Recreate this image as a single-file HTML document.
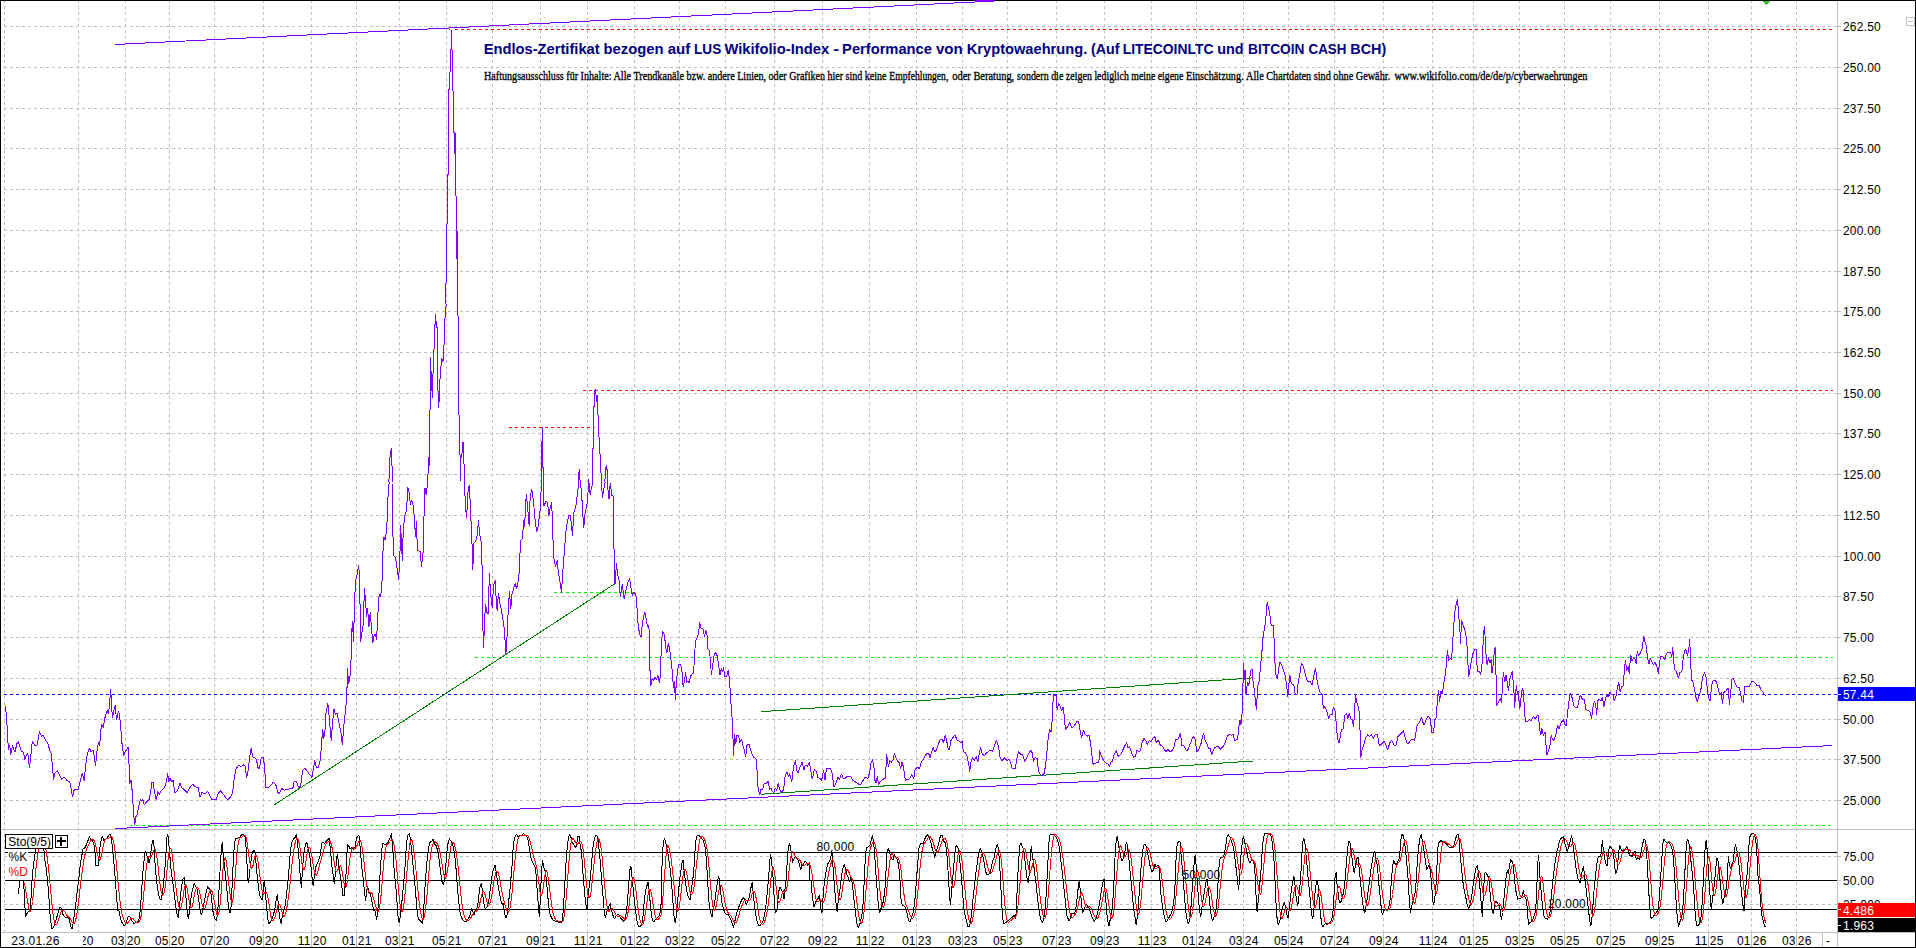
<!DOCTYPE html><html><head><meta charset="utf-8"><title>chart</title><style>html,body{margin:0;padding:0;background:#fff}svg{display:block;font-family:"Liberation Sans",sans-serif;font-size:12px}</style></head><body>
<svg width="1916" height="948" viewBox="0 0 1916 948">
<rect x="0" y="0" width="1916" height="948" fill="#fff"/>
<g stroke="#c0c0c0" stroke-width="1" shape-rendering="crispEdges" stroke-dasharray="3 3" fill="none">
<path d="M4.5 0V829"/>
<path d="M4.5 828V932"/>
<path d="M78.5 0V829"/>
<path d="M78.5 828V932"/>
<path d="M125.5 0V829"/>
<path d="M125.5 828V932"/>
<path d="M169.5 0V829"/>
<path d="M169.5 828V932"/>
<path d="M214.5 0V829"/>
<path d="M214.5 828V932"/>
<path d="M263.5 0V829"/>
<path d="M263.5 828V932"/>
<path d="M311.5 0V829"/>
<path d="M311.5 828V932"/>
<path d="M356.5 0V829"/>
<path d="M356.5 828V932"/>
<path d="M399.5 0V829"/>
<path d="M399.5 828V932"/>
<path d="M446.5 0V829"/>
<path d="M446.5 828V932"/>
<path d="M492.5 0V829"/>
<path d="M492.5 828V932"/>
<path d="M540.5 0V829"/>
<path d="M540.5 828V932"/>
<path d="M587.5 0V829"/>
<path d="M587.5 828V932"/>
<path d="M634.5 0V829"/>
<path d="M634.5 828V932"/>
<path d="M679.5 0V829"/>
<path d="M679.5 828V932"/>
<path d="M725.5 0V829"/>
<path d="M725.5 828V932"/>
<path d="M774.5 0V829"/>
<path d="M774.5 828V932"/>
<path d="M822.5 0V829"/>
<path d="M822.5 828V932"/>
<path d="M869.5 0V829"/>
<path d="M869.5 828V932"/>
<path d="M916.5 0V829"/>
<path d="M916.5 828V932"/>
<path d="M962.5 0V829"/>
<path d="M962.5 828V932"/>
<path d="M1007.5 0V829"/>
<path d="M1007.5 828V932"/>
<path d="M1056.5 0V829"/>
<path d="M1056.5 828V932"/>
<path d="M1104.5 0V829"/>
<path d="M1104.5 828V932"/>
<path d="M1151.5 0V829"/>
<path d="M1151.5 828V932"/>
<path d="M1196.5 0V829"/>
<path d="M1196.5 828V932"/>
<path d="M1243.5 0V829"/>
<path d="M1243.5 828V932"/>
<path d="M1288.5 0V829"/>
<path d="M1288.5 828V932"/>
<path d="M1334.5 0V829"/>
<path d="M1334.5 828V932"/>
<path d="M1383.5 0V829"/>
<path d="M1383.5 828V932"/>
<path d="M1432.5 0V829"/>
<path d="M1432.5 828V932"/>
<path d="M1473.5 0V829"/>
<path d="M1473.5 828V932"/>
<path d="M1519.5 0V829"/>
<path d="M1519.5 828V932"/>
<path d="M1564.5 0V829"/>
<path d="M1564.5 828V932"/>
<path d="M1610.5 0V829"/>
<path d="M1610.5 828V932"/>
<path d="M1659.5 0V829"/>
<path d="M1659.5 828V932"/>
<path d="M1708.5 0V829"/>
<path d="M1708.5 828V932"/>
<path d="M1751.5 0V829"/>
<path d="M1751.5 828V932"/>
<path d="M1796.5 0V829"/>
<path d="M1796.5 828V932"/>
<path d="M4 26.5H1837"/>
<path d="M4 67.5H1837"/>
<path d="M4 108.5H1837"/>
<path d="M4 148.5H1837"/>
<path d="M4 189.5H1837"/>
<path d="M4 230.5H1837"/>
<path d="M4 271.5H1837"/>
<path d="M4 311.5H1837"/>
<path d="M4 352.5H1837"/>
<path d="M4 393.5H1837"/>
<path d="M4 433.5H1837"/>
<path d="M4 474.5H1837"/>
<path d="M4 515.5H1837"/>
<path d="M4 556.5H1837"/>
<path d="M4 596.5H1837"/>
<path d="M4 637.5H1837"/>
<path d="M4 678.5H1837"/>
<path d="M4 719.5H1837"/>
<path d="M4 759.5H1837"/>
<path d="M4 800.5H1837"/>
<path d="M4 856.5H1837"/>
<path d="M4 904.5H1837"/>
</g>
<g stroke="#c0c0c0" stroke-width="1" shape-rendering="crispEdges" fill="none">
<path d="M1837.5 1V947"/>
<path d="M1 829.5H1915"/>
<path d="M1 932.5H1915"/>
<path d="M1834 26.5H1841"/>
<path d="M1834 67.5H1841"/>
<path d="M1834 108.5H1841"/>
<path d="M1834 148.5H1841"/>
<path d="M1834 189.5H1841"/>
<path d="M1834 230.5H1841"/>
<path d="M1834 271.5H1841"/>
<path d="M1834 311.5H1841"/>
<path d="M1834 352.5H1841"/>
<path d="M1834 393.5H1841"/>
<path d="M1834 433.5H1841"/>
<path d="M1834 474.5H1841"/>
<path d="M1834 515.5H1841"/>
<path d="M1834 556.5H1841"/>
<path d="M1834 596.5H1841"/>
<path d="M1834 637.5H1841"/>
<path d="M1834 678.5H1841"/>
<path d="M1834 719.5H1841"/>
<path d="M1834 759.5H1841"/>
<path d="M1834 800.5H1841"/>
<path d="M1834 856.5H1841"/>
<path d="M1834 904.5H1841"/>
<path d="M1834 880.5H1841"/>
<path d="M78.5 930V947"/>
<path d="M125.5 930V947"/>
<path d="M169.5 930V947"/>
<path d="M214.5 930V947"/>
<path d="M263.5 930V947"/>
<path d="M311.5 930V947"/>
<path d="M356.5 930V947"/>
<path d="M399.5 930V947"/>
<path d="M446.5 930V947"/>
<path d="M492.5 930V947"/>
<path d="M540.5 930V947"/>
<path d="M587.5 930V947"/>
<path d="M634.5 930V947"/>
<path d="M679.5 930V947"/>
<path d="M725.5 930V947"/>
<path d="M774.5 930V947"/>
<path d="M822.5 930V947"/>
<path d="M869.5 930V947"/>
<path d="M916.5 930V947"/>
<path d="M962.5 930V947"/>
<path d="M1007.5 930V947"/>
<path d="M1056.5 930V947"/>
<path d="M1104.5 930V947"/>
<path d="M1151.5 930V947"/>
<path d="M1196.5 930V947"/>
<path d="M1243.5 930V947"/>
<path d="M1288.5 930V947"/>
<path d="M1334.5 930V947"/>
<path d="M1383.5 930V947"/>
<path d="M1432.5 930V947"/>
<path d="M1473.5 930V947"/>
<path d="M1519.5 930V947"/>
<path d="M1564.5 930V947"/>
<path d="M1610.5 930V947"/>
<path d="M1659.5 930V947"/>
<path d="M1708.5 930V947"/>
<path d="M1751.5 930V947"/>
<path d="M1796.5 930V947"/>
<path d="M1822.5 933V947"/>
<rect x="1906.5" y="17.5" width="8" height="8" fill="#fff"/><path d="M1908 21.5H1913"/>
</g>
<rect x="449" y="29" width="1" height="1" fill="#ff0000"/>
<path d="M455 29.5H1833" stroke="#ff0000" stroke-width="1" stroke-dasharray="3 3" shape-rendering="crispEdges" fill="none"/>
<path d="M583 390.5H1833" stroke="#ff0000" stroke-width="1" stroke-dasharray="3 3" shape-rendering="crispEdges" fill="none"/>
<path d="M509 427.5H595" stroke="#ff0000" stroke-width="1" stroke-dasharray="3 3" shape-rendering="crispEdges" fill="none"/>
<path d="M475 657.5H1833" stroke="#00ff00" stroke-width="1" stroke-dasharray="3 3" shape-rendering="crispEdges" fill="none"/>
<path d="M554 592.5H636" stroke="#00ff00" stroke-width="1" stroke-dasharray="3 3" shape-rendering="crispEdges" fill="none"/>
<path d="M130 825.5H1833" stroke="#00ff00" stroke-width="1" stroke-dasharray="3 3" shape-rendering="crispEdges" fill="none"/>
<path d="M4 694.5H1838" stroke="#0000ff" stroke-width="1" stroke-dasharray="3 3" shape-rendering="crispEdges" fill="none"/>
<path d="M115 44.5L994 1.05" stroke="#8000ff" stroke-width="1" shape-rendering="crispEdges" fill="none"/>
<path d="M115 828.6L1832 745.55" stroke="#8000ff" stroke-width="1" shape-rendering="crispEdges" fill="none"/>
<path d="M274 805L614.7 583.8" stroke="#008000" stroke-width="1" shape-rendering="crispEdges" fill="none"/>
<path d="M761 711.7L1253 677.9" stroke="#008000" stroke-width="1" shape-rendering="crispEdges" fill="none"/>
<path d="M761 794.3L1253 761" stroke="#008000" stroke-width="1" shape-rendering="crispEdges" fill="none"/>
<path d="M5.3 706.0 6.6 716.4 7.5 735.2 8.5 750.2 9.8 745.5 10.7 754.9 12.4 745.5 13.5 748.3 15.0 752.1 16.9 743.6 18.4 741.7 19.7 746.4 21.6 751.1 23.5 752.1 24.8 759.6 26.3 754.9 27.8 753.6 29.5 768.0 31.0 753.9 32.3 740.8 34.8 745.5 37.0 745.5 39.5 731.4 41.3 736.1 43.2 735.2 46.0 740.8 47.9 743.6 49.8 750.2 51.1 753.0 52.6 767.1 53.5 780.3 54.5 773.7 57.3 770.5 59.2 774.6 61.6 779.3 64.3 776.9 66.7 780.3 69.9 782.1 71.4 789.6 72.5 797.2 74.2 789.6 76.1 789.3 78.0 789.6 79.9 782.1 82.3 772.7 84.2 781.2 85.5 767.1 87.4 753.0 89.6 748.3 91.1 752.1 93.0 750.2 94.5 757.7 95.6 766.2 96.8 752.1 98.6 741.7 99.6 745.5 101.5 723.9 103.3 727.6 105.2 716.4 107.1 710.7 108.6 713.5 109.9 700.4 110.5 689.1 111.2 697.6 112.4 718.2 113.9 710.7 115.2 705.1 116.5 720.1 118.4 710.7 119.7 716.4 121.2 733.3 122.1 744.6 123.6 755.8 125.5 751.1 128.1 747.4 129.1 765.2 129.6 784.0 131.0 780.3 131.9 787.8 132.8 800.9 133.8 815.9 134.7 825.3 135.7 816.9 137.2 815.0 139.0 804.7 140.5 799.0 141.9 800.9 142.8 799.0 144.3 804.7 146.6 801.9 149.4 799.0 150.7 791.5 151.8 782.1 153.1 782.1 154.4 791.5 156.3 800.0 157.8 791.5 159.3 794.3 161.2 790.6 163.5 788.7 165.3 785.9 166.8 780.3 167.6 772.7 168.7 782.1 170.0 778.4 171.9 782.1 173.2 780.3 174.7 793.0 176.6 791.5 178.5 787.8 180.0 783.1 181.9 787.8 184.1 789.6 187.0 792.5 189.8 787.8 192.6 784.0 195.4 786.8 198.2 787.4 200.1 797.2 202.0 792.5 204.8 793.8 207.6 791.5 209.5 795.3 211.9 800.0 216.1 799.4 218.0 794.3 220.2 790.6 222.7 793.4 225.5 797.2 227.7 800.0 230.2 797.2 232.6 793.4 233.9 780.3 235.8 769.0 238.6 765.6 241.4 766.7 243.9 764.8 245.4 766.2 246.5 778.4 248.0 770.9 249.9 755.8 251.2 748.3 252.7 756.8 254.6 757.7 256.5 759.6 257.8 767.1 259.3 769.0 261.2 757.7 263.4 757.7 264.6 767.1 265.9 787.8 267.7 787.8 270.6 785.5 273.4 782.1 276.2 785.9 278.5 794.3 280.9 790.6 281.8 788.7 284.7 790.2 287.5 789.3 290.3 788.7 293.1 787.8 294.1 781.8 296.5 781.2 298.7 787.8 300.6 785.9 302.5 770.9 304.8 768.0 307.2 770.9 309.6 774.6 311.9 777.4 313.4 769.0 314.7 760.5 316.2 767.1 318.5 767.1 320.4 759.6 321.7 740.8 322.8 729.5 323.5 738.9 324.7 735.2 326.0 712.6 327.9 703.6 329.2 716.4 330.3 731.4 331.3 740.8 332.6 722.0 333.9 708.9 335.4 714.5 337.3 713.5 339.1 723.9 341.0 733.3 342.3 744.6 343.8 725.8 345.3 712.6 346.7 697.6 347.6 668.5 348.5 684.4 349.9 678.8 350.8 660.0 351.2 659.9 351.6 634.2 352.5 621.0 353.5 641.7 354.4 609.8 355.4 581.6 357.2 574.1 358.6 564.7 359.7 579.7 360.1 609.8 360.6 641.7 361.9 632.3 363.3 624.8 364.4 588.2 365.7 602.3 366.6 617.3 367.6 607.9 368.9 626.7 370.4 611.6 371.3 626.7 372.8 642.6 374.2 635.1 375.5 634.2 376.6 639.8 377.9 613.5 379.2 594.7 380.7 596.6 382.0 581.6 383.0 551.5 383.9 537.4 385.4 540.2 386.9 525.2 387.9 498.0 389.2 482.0 388.2 481.9 389.2 477.8 389.6 460.9 390.5 452.4 391.4 448.3 392.0 465.6 392.6 467.5 392.6 481.9 392.0 482.0 392.6 521.5 393.5 555.3 395.4 557.2 397.3 570.3 398.6 579.7 399.9 557.2 400.5 525.2 401.4 538.4 402.3 560.9 403.3 529.0 404.8 515.8 406.7 510.2 407.6 486.7 408.9 491.4 410.4 504.5 411.7 499.8 413.2 505.5 414.2 515.8 415.5 536.5 416.4 521.5 417.4 550.6 420.2 551.5 421.5 566.6 423.0 553.4 423.9 519.6 424.9 487.6 426.2 495.2 427.7 482.0 427.3 481.9 428.1 473.1 428.6 457.1 429.2 465.6 429.6 411.1 430.5 409.2 430.9 394.2 430.5 357.5 431.5 382.9 432.4 397.9 432.8 379.2 433.7 356.6 434.7 332.2 435.4 314.3 436.2 328.4 436.7 320.9 437.5 335.9 437.5 376.3 438.6 408.3 439.4 396.1 439.9 381.0 440.9 366.9 441.8 358.5 442.7 362.2 443.7 359.4 444.6 319.0 445.6 317.2 446.1 304.0 445.8 303.8 445.8 284.7 446.7 279.1 447.3 174.8 448.6 174.5 448.8 126.0 448.5 89.0 449.7 89.0 449.7 71.9 450.8 71.9 450.8 49.7 451.4 49.1 451.4 30.1 451.9 49.7 452.5 50.4 452.7 90.9 453.5 91.5 453.5 132.0 454.4 132.7 454.8 139.9 453.3 126.0 453.5 132.6 454.4 133.1 454.4 154.2 455.4 132.6 455.7 195.5 456.7 196.4 456.7 259.3 457.6 231.2 457.6 303.8 457.4 304.0 457.8 315.3 458.5 317.2 458.7 414.9 459.6 415.8 459.6 454.3 460.6 456.2 460.6 480.6 461.0 458.1 462.1 452.4 462.5 443.0 463.4 442.1 463.8 463.7 464.7 464.6 464.9 481.9 464.3 482.0 465.7 509.2 466.6 517.7 468.1 490.5 469.4 484.8 470.5 510.2 471.9 540.2 472.8 570.3 473.7 543.1 475.6 541.2 477.5 534.6 478.4 520.5 479.7 534.6 481.3 542.1 482.2 570.3 482.6 621.0 483.7 648.3 484.4 622.9 485.6 604.1 486.9 612.6 488.4 613.5 489.3 573.1 490.6 592.9 492.2 607.9 493.5 585.3 495.3 579.7 496.3 602.3 497.2 610.7 498.4 592.9 499.7 602.3 501.4 609.8 502.9 619.2 504.7 632.3 505.7 655.4 506.6 645.5 507.9 617.3 509.4 591.0 510.8 608.8 511.9 594.7 513.2 590.0 515.1 583.5 516.4 589.1 518.8 578.8 519.8 557.2 520.7 540.2 522.6 538.4 523.5 519.6 524.5 527.1 526.3 494.2 527.7 508.3 529.2 526.2 530.1 498.9 531.6 488.6 533.5 500.8 534.8 517.7 536.7 531.8 538.2 526.2 540.1 510.2 541.4 483.9 541.9 463.2 541.4 481.9 541.4 465.6 541.9 446.8 542.3 427.1 542.7 467.5 543.6 467.5 543.6 481.9 543.8 506.4 546.1 500.8 547.6 502.7 548.9 515.8 550.2 508.3 551.7 501.7 552.7 530.9 553.6 557.2 555.5 566.6 557.3 560.0 558.3 572.2 560.2 583.5 561.5 592.5 562.6 574.1 563.9 557.2 564.9 544.0 566.4 527.1 568.6 515.8 570.5 515.8 572.4 535.5 573.9 512.1 575.8 506.4 577.1 496.1 579.0 482.0 578.4 481.9 578.6 474.0 579.5 469.0 579.9 479.7 580.8 481.9 580.5 482.0 581.8 497.0 583.7 528.0 585.2 512.1 587.0 504.5 588.9 482.0 588.4 481.9 588.5 478.7 588.9 481.9 588.9 482.0 590.2 495.2 591.5 487.6 593.0 482.0 592.5 481.9 592.7 448.7 593.6 447.7 593.6 407.3 594.6 405.5 594.6 391.4 595.5 388.9 596.1 396.1 596.8 401.7 597.4 395.5 597.7 414.9 598.7 415.8 599.1 443.0 599.8 444.0 600.2 462.8 600.9 463.7 601.1 479.7 601.9 481.9 601.5 482.0 602.4 498.0 603.9 488.6 605.3 482.0 604.9 481.9 605.3 472.2 606.2 465.2 606.8 470.3 607.7 469.3 607.9 481.9 607.1 482.0 609.0 498.9 610.3 482.9 611.8 495.2 613.3 496.1 613.7 542.1 614.7 562.8 615.0 584.4 616.5 562.8 617.5 575.0 618.8 577.8 620.3 596.6 622.2 584.4 624.1 598.5 625.9 591.0 627.8 582.5 629.7 578.2 631.2 590.0 632.5 595.7 634.0 591.9 635.9 594.7 637.2 609.8 638.1 624.8 639.6 634.2 641.0 637.0 642.5 622.9 644.7 611.6 646.6 621.0 647.5 626.7 648.5 624.8 649.8 636.1 649.8 659.9 649.8 665.8 650.7 686.4 652.2 678.0 653.5 680.8 655.0 677.0 656.5 679.9 657.8 675.2 659.4 682.7 660.3 675.2 661.0 656.4 661.6 641.3 662.5 631.6 664.4 634.8 665.9 648.9 666.9 652.6 668.2 643.6 669.7 648.9 671.0 660.1 672.3 671.4 673.4 688.3 674.4 680.8 675.3 699.6 676.3 682.7 677.6 671.4 678.5 663.9 680.4 664.8 681.7 667.6 683.2 687.4 684.5 680.8 685.7 672.3 686.6 682.7 687.9 680.8 689.2 682.7 690.7 676.1 692.2 673.3 693.5 673.3 694.5 658.2 695.4 641.3 696.9 638.5 698.6 632.9 699.7 622.5 701.1 628.2 702.9 628.2 704.4 636.6 705.8 630.1 707.3 636.6 708.0 648.9 709.5 650.7 710.5 662.0 711.4 675.2 712.7 664.8 714.2 654.5 715.7 652.6 717.4 656.4 718.5 663.9 719.9 675.2 721.2 668.6 722.3 672.3 723.6 667.6 724.9 677.0 726.8 676.1 728.3 670.5 729.2 678.0 730.2 690.2 731.1 705.2 732.1 718.4 733.0 739.0 733.6 755.9 734.5 734.3 735.8 743.7 736.8 735.3 738.6 735.3 739.6 742.8 741.5 739.0 743.0 745.6 744.3 750.3 745.6 756.9 747.1 744.7 749.4 744.3 750.5 750.3 751.8 753.1 753.3 756.9 755.0 757.8 756.5 759.7 757.4 777.9 757.8 785.9 758.8 791.5 759.7 795.3 761.0 789.6 762.5 789.6 764.1 784.0 766.3 783.1 768.2 781.2 769.7 789.6 771.0 787.8 772.3 791.5 773.8 792.5 775.3 787.8 776.6 790.6 778.1 783.1 779.8 789.6 781.7 792.5 783.6 789.6 785.1 776.5 787.0 771.8 788.5 776.5 789.8 773.7 791.7 782.1 793.5 767.1 795.4 760.5 796.9 770.9 798.2 772.7 800.1 767.1 802.0 762.4 803.9 769.9 805.4 765.2 807.6 766.2 809.5 762.4 811.0 771.8 812.3 779.3 814.2 769.9 816.1 770.9 818.0 777.4 819.9 778.4 821.7 780.3 823.6 769.9 824.9 780.3 826.4 769.0 828.3 768.0 830.6 768.6 832.4 774.6 833.9 786.8 835.8 784.0 837.7 777.4 839.6 779.3 841.5 773.7 843.3 778.4 845.2 778.4 847.1 776.5 850.9 776.9 852.7 780.3 855.6 782.1 858.4 784.0 860.3 784.9 863.1 780.3 864.9 777.4 867.8 778.4 869.6 772.7 871.0 763.3 872.5 759.6 873.8 765.2 874.9 780.3 876.2 783.1 877.2 776.5 878.7 784.9 880.5 781.2 882.8 779.3 885.1 778.4 886.2 765.2 886.6 753.9 888.4 767.1 889.7 760.5 891.3 762.4 893.1 759.6 894.4 753.0 895.9 757.7 897.8 761.5 899.3 762.4 900.6 769.0 902.0 762.4 903.5 767.1 905.3 780.3 908.2 779.3 910.0 778.4 911.9 774.6 913.8 778.4 915.1 769.0 917.6 767.1 919.4 769.0 921.3 762.4 923.2 759.6 925.1 755.8 927.0 753.0 928.8 753.9 930.1 757.7 931.6 752.1 933.2 747.4 934.5 752.1 936.3 750.2 938.2 744.6 940.1 739.9 942.0 738.9 943.5 742.7 945.2 735.2 946.7 740.8 948.2 749.2 949.5 750.2 950.8 740.8 953.3 737.0 955.1 735.2 957.0 739.9 958.9 740.8 960.8 742.7 962.3 740.8 963.2 751.1 965.5 753.0 967.3 756.8 968.9 765.2 969.6 772.4 970.7 762.4 972.6 757.7 974.5 760.5 976.4 755.8 977.7 762.4 979.6 752.1 980.5 747.4 982.4 753.9 984.3 755.8 986.5 753.0 989.0 751.1 990.8 750.2 992.7 751.1 994.6 744.6 996.5 740.4 998.4 746.4 1000.2 757.7 1002.1 760.5 1004.6 757.7 1006.8 760.5 1009.1 759.6 1010.6 762.4 1012.1 768.6 1013.9 768.0 1015.3 769.0 1016.6 759.6 1018.5 751.5 1020.3 753.9 1022.8 754.9 1024.7 761.5 1026.5 757.7 1028.4 753.9 1030.9 750.2 1032.2 753.0 1033.5 761.5 1035.0 757.7 1037.2 758.3 1038.4 770.9 1040.3 774.6 1042.1 775.6 1044.0 773.7 1045.3 767.1 1046.6 755.8 1048.1 738.9 1049.6 729.5 1051.0 732.3 1051.9 723.9 1052.8 707.0 1053.4 693.8 1054.7 695.7 1056.0 694.8 1057.2 709.8 1058.5 703.2 1060.4 707.0 1061.7 710.7 1063.2 707.0 1064.1 714.5 1065.4 729.5 1067.9 726.7 1069.7 722.0 1071.6 727.6 1073.5 726.7 1075.4 723.9 1077.3 721.1 1078.6 722.0 1080.1 730.5 1081.6 738.0 1083.5 730.5 1085.3 734.2 1087.2 736.1 1089.1 735.2 1090.4 742.7 1091.4 750.2 1092.9 764.3 1095.1 763.3 1097.0 762.4 1098.9 762.4 1099.4 750.6 1101.3 755.3 1103.2 760.0 1106.0 762.9 1107.8 763.8 1109.4 767.0 1111.0 761.9 1112.5 761.0 1114.1 754.4 1116.3 750.6 1118.2 756.3 1121.0 754.4 1122.9 749.7 1124.8 745.9 1126.6 742.6 1128.1 747.8 1129.8 746.9 1131.7 753.5 1133.6 757.2 1135.5 756.3 1137.0 749.7 1138.5 751.6 1140.4 750.6 1142.2 742.2 1144.1 738.4 1146.0 741.3 1147.3 745.0 1149.2 740.3 1151.1 742.2 1152.9 738.4 1154.8 736.6 1156.1 742.2 1158.6 740.3 1160.5 745.9 1162.3 745.9 1164.2 749.7 1166.1 751.6 1168.0 749.7 1170.4 752.0 1172.7 749.7 1174.2 746.9 1175.5 739.4 1177.9 739.4 1179.8 734.7 1180.6 732.8 1181.5 745.0 1183.9 745.9 1186.2 750.6 1188.1 749.7 1190.0 744.1 1192.4 738.4 1193.7 736.6 1195.2 739.4 1196.7 751.6 1198.6 749.7 1200.9 744.1 1202.7 735.6 1203.7 733.7 1205.0 740.3 1206.9 744.1 1208.7 748.8 1210.3 747.8 1211.6 755.3 1213.1 750.6 1214.9 747.8 1217.4 745.9 1220.6 749.3 1223.4 745.9 1225.3 742.2 1227.2 736.6 1229.0 734.3 1231.3 735.1 1233.2 734.7 1234.7 740.7 1237.5 739.4 1238.8 728.1 1239.9 719.6 1240.9 725.3 1242.2 712.1 1242.8 691.5 1243.5 663.3 1244.1 680.2 1245.0 669.9 1245.9 694.3 1247.5 682.1 1248.8 685.8 1249.7 678.3 1250.6 670.8 1252.0 668.9 1252.9 680.2 1254.0 687.7 1255.3 699.0 1256.5 710.3 1257.6 685.8 1259.1 682.1 1260.6 665.2 1261.9 652.0 1263.2 635.1 1264.7 627.6 1266.2 614.4 1267.2 602.2 1268.5 607.8 1269.8 614.4 1271.3 625.7 1273.2 625.7 1274.1 638.9 1275.1 665.2 1276.0 674.6 1277.5 679.2 1278.5 669.9 1279.8 662.3 1281.6 665.2 1283.5 670.8 1285.4 676.4 1286.9 687.7 1287.8 696.7 1288.8 685.8 1289.7 674.6 1291.0 682.1 1292.5 684.9 1293.9 684.9 1295.2 694.3 1297.1 694.3 1298.2 682.1 1300.1 672.7 1301.4 663.3 1303.3 666.1 1304.8 672.7 1306.5 678.3 1308.0 682.1 1309.8 681.1 1312.1 684.9 1313.6 676.4 1315.5 668.0 1316.4 674.6 1317.3 682.1 1318.9 688.6 1320.2 692.4 1322.0 694.3 1323.4 708.4 1324.9 706.5 1326.7 710.3 1328.6 718.7 1330.5 714.0 1332.0 714.9 1333.3 707.4 1334.8 709.3 1335.8 717.8 1336.5 729.0 1337.6 738.4 1339.0 743.1 1340.3 736.6 1341.4 730.0 1343.3 729.0 1344.6 715.9 1346.5 713.1 1347.8 718.7 1349.3 713.1 1350.8 718.7 1352.1 719.6 1353.6 727.2 1354.6 710.3 1355.5 694.3 1356.8 702.7 1358.3 706.5 1359.6 714.0 1360.2 736.6 1360.6 758.2 1362.1 749.7 1363.9 744.1 1365.8 737.5 1367.7 734.7 1369.6 736.6 1371.5 734.7 1373.3 738.4 1375.2 734.7 1377.5 734.7 1379.4 745.9 1381.6 743.7 1384.1 741.3 1385.9 745.0 1387.8 749.7 1389.7 743.1 1391.6 739.9 1394.0 745.0 1396.3 745.0 1397.8 736.6 1400.0 734.7 1401.9 732.8 1403.4 730.0 1405.3 738.4 1407.5 744.1 1409.4 742.2 1411.3 739.4 1414.7 740.3 1416.0 731.9 1417.3 724.3 1419.7 722.5 1421.3 716.8 1422.6 721.5 1424.1 725.3 1425.9 720.6 1428.2 715.9 1430.1 718.7 1432.0 732.8 1433.5 732.8 1434.8 719.6 1436.3 717.8 1437.2 702.7 1438.5 689.6 1439.5 701.8 1441.0 691.5 1442.3 694.3 1444.2 680.2 1445.7 672.7 1446.6 659.5 1447.6 650.1 1448.5 660.5 1450.3 658.6 1451.6 659.5 1452.5 646.4 1453.5 627.6 1454.8 612.5 1456.3 603.2 1457.6 599.4 1458.6 614.4 1459.7 625.7 1460.6 643.5 1461.4 620.1 1462.9 624.8 1464.8 629.5 1466.3 637.0 1467.6 653.9 1468.5 677.4 1469.8 670.8 1471.3 661.4 1472.8 653.9 1474.5 650.1 1476.0 649.2 1477.0 665.2 1477.9 671.7 1479.2 670.8 1480.4 674.6 1481.7 668.9 1482.6 653.9 1483.5 635.1 1484.5 625.7 1485.4 642.6 1486.4 661.4 1487.3 665.2 1488.6 656.7 1489.7 663.3 1491.1 659.5 1492.0 672.7 1493.3 664.2 1494.4 650.1 1495.2 647.3 1495.8 670.8 1496.7 687.7 1496.7 706.1 1498.6 701.8 1500.5 698.0 1501.4 702.7 1502.3 689.6 1503.3 671.7 1504.8 682.1 1506.1 674.6 1507.4 683.9 1508.5 690.5 1509.9 678.3 1511.2 674.6 1512.3 670.8 1513.2 682.1 1514.2 695.2 1514.6 708.4 1515.5 695.2 1516.4 684.9 1517.4 695.2 1518.3 691.5 1519.2 702.7 1519.8 709.3 1521.1 697.1 1522.4 687.7 1523.6 692.4 1524.5 714.0 1525.8 721.5 1527.7 721.5 1529.6 719.6 1531.5 720.6 1533.3 715.9 1535.2 718.7 1537.1 715.9 1538.6 714.9 1539.4 729.0 1540.9 734.7 1541.8 728.1 1543.3 735.6 1545.0 731.9 1546.1 745.9 1546.9 755.3 1548.4 750.6 1549.9 745.9 1551.2 735.6 1552.5 739.4 1554.0 740.3 1555.9 734.7 1557.4 725.3 1559.3 729.0 1560.6 723.4 1562.1 721.5 1563.4 719.6 1564.9 724.3 1566.2 726.2 1567.5 714.0 1568.7 702.7 1570.0 694.3 1570.9 693.3 1572.4 699.0 1573.7 705.6 1575.6 707.4 1577.5 707.4 1579.0 699.9 1580.3 695.2 1582.2 699.0 1584.1 699.0 1585.9 709.3 1587.8 710.3 1589.7 711.2 1591.6 718.7 1593.1 706.5 1594.4 700.9 1595.7 704.6 1596.7 714.9 1597.6 700.9 1599.1 699.0 1601.0 700.9 1602.5 697.1 1603.8 707.4 1605.1 700.9 1606.6 695.2 1608.5 697.1 1610.0 692.4 1611.9 695.2 1613.2 694.3 1614.1 700.9 1616.0 696.2 1617.5 687.7 1618.8 682.1 1620.1 691.5 1621.6 686.8 1623.2 685.8 1624.5 668.9 1625.4 660.5 1626.7 670.8 1628.2 666.1 1629.2 673.6 1630.1 661.4 1630.7 654.8 1632.0 660.5 1633.9 657.6 1635.2 659.5 1636.3 664.2 1637.2 651.1 1638.6 655.8 1640.4 652.9 1642.3 648.2 1643.3 638.9 1643.8 636.0 1645.1 642.6 1646.1 645.4 1647.6 657.6 1648.9 664.2 1650.2 658.6 1651.7 661.4 1653.6 665.2 1655.1 662.3 1657.0 667.0 1658.3 673.6 1659.6 661.4 1660.7 656.7 1662.6 656.7 1664.9 659.5 1666.4 653.9 1668.2 652.0 1670.5 652.0 1671.8 656.7 1672.8 647.3 1673.7 661.4 1674.8 669.9 1676.5 671.7 1678.4 678.3 1679.9 672.7 1681.8 671.7 1683.3 657.6 1684.6 651.1 1685.9 649.2 1687.4 655.8 1688.9 648.2 1689.7 639.2 1690.2 652.0 1690.8 665.2 1691.7 680.2 1693.0 682.1 1694.6 689.6 1695.9 697.1 1697.4 702.2 1698.7 696.2 1700.6 691.5 1702.1 680.2 1703.4 674.6 1704.7 672.7 1706.2 677.4 1707.7 693.3 1709.0 699.0 1710.3 700.9 1711.5 685.8 1712.8 681.1 1714.7 680.2 1716.5 682.1 1718.4 689.6 1719.7 695.2 1721.2 692.4 1722.5 704.2 1723.7 692.4 1725.4 691.5 1726.9 689.6 1728.4 687.7 1729.3 704.6 1730.6 693.3 1731.9 679.2 1733.4 678.3 1735.3 683.9 1737.2 687.7 1739.1 686.8 1740.4 693.3 1741.9 700.9 1743.4 702.7 1744.7 686.8 1746.6 686.2 1749.4 686.2 1751.3 682.1 1752.8 681.1 1755.1 683.0 1757.3 685.8 1759.2 684.9 1760.7 689.6 1762.6 691.5 1764.4 694.3 1765.8 695.6" stroke="#8000ff" stroke-width="1" shape-rendering="crispEdges" fill="none" stroke-linejoin="bevel"/>
<g fill="#22c822" shape-rendering="crispEdges"><rect x="1763" y="1" width="7" height="1"/><rect x="1764" y="2" width="5" height="1"/><rect x="1765" y="3" width="3" height="1"/><rect x="1766" y="4" width="1" height="1"/></g>
<g stroke="#000" stroke-width="1" shape-rendering="crispEdges" fill="none">
<path d="M5 852.5H1837"/>
<path d="M5 880.5H1837"/>
<path d="M5 909.5H1837"/>
</g>
<path d="M18.5 893.8 19.6 880.6 23.5 880.6 24.3 893.8 25.1 909.4 25.8 916.5 27.4 912.5 29.8 911.0 30.9 900.0 32.1 879.7 33.2 867.1 34.8 855.4 36.0 848.4 38.4 837.4 41.0 836.6 43.8 848.4 44.6 857.8 46.2 868.7 47.8 882.8 48.9 896.9 49.8 912.5 50.9 922.0 51.7 928.2 53.2 928.2 54.8 923.5 56.4 918.8 57.9 913.3 59.5 907.1 60.8 907.1 61.9 911.0 63.4 915.7 65.5 917.2 67.3 917.2 68.9 918.0 70.2 923.5 71.2 928.2 72.3 928.2 73.3 922.0 74.4 914.9 75.9 903.2 77.5 889.1 79.1 876.5 80.2 865.6 81.4 857.8 83.0 849.1 84.5 848.4 86.9 843.7 88.5 839.0 89.6 836.6 90.8 839.7 92.4 840.5 94.0 845.2 95.0 851.5 95.8 865.6 97.1 866.0 98.6 864.8 99.4 851.5 100.5 842.9 101.8 837.4 102.6 835.8 103.7 840.5 105.2 839.7 107.2 838.2 108.8 835.0 110.4 834.6 111.5 839.0 112.4 848.4 113.5 857.8 114.6 870.3 115.5 882.8 116.7 898.5 117.8 910.2 119.0 911.0 120.2 917.2 121.8 922.0 123.4 925.1 125.3 925.1 126.5 922.0 127.6 917.2 129.2 916.5 130.7 918.0 132.3 921.2 133.9 923.5 135.9 922.7 137.8 922.0 139.0 918.8 140.1 911.0 140.9 901.6 141.7 890.6 142.5 876.5 143.7 864.0 144.8 853.8 145.6 850.7 146.9 855.4 148.0 857.8 149.1 863.2 150.3 857.8 151.6 845.2 152.7 841.3 153.4 839.7 154.2 848.4 155.0 862.5 156.1 876.5 157.4 886.7 158.5 893.8 159.7 898.5 161.0 900.0 162.1 894.5 163.3 885.9 164.4 873.4 165.7 859.3 166.4 845.2 167.2 835.0 167.8 834.3 168.8 843.7 169.9 856.2 171.0 868.7 172.2 878.1 173.5 887.5 174.6 896.9 175.7 906.3 176.9 913.3 178.2 918.0 179.3 907.9 180.4 896.9 181.6 885.9 182.9 878.9 184.4 877.3 185.2 887.5 186.3 901.6 187.4 913.3 188.4 918.8 189.5 911.0 190.7 900.0 192.3 890.6 194.2 883.6 195.7 886.7 197.3 889.9 198.5 898.5 199.6 906.3 200.7 913.3 201.7 914.9 202.8 909.4 204.3 901.6 205.9 893.8 207.5 886.7 209.0 888.3 210.6 890.6 211.7 900.0 212.9 911.0 214.5 918.0 216.1 920.4 217.3 915.7 218.4 901.6 219.5 881.2 220.5 862.5 221.6 846.8 222.3 842.1 223.1 853.0 224.2 864.0 225.5 875.0 226.6 885.9 227.8 900.0 228.9 909.4 230.2 913.3 231.3 904.7 232.2 884.4 233.3 860.9 234.4 843.7 235.7 838.2 237.2 838.2 239.6 837.4 241.9 834.6 243.5 834.3 245.0 836.6 246.1 848.4 247.1 865.6 247.9 879.7 248.5 882.8 249.3 875.0 250.5 864.0 252.1 853.8 253.7 849.9 254.9 851.5 256.0 862.5 257.1 875.0 258.4 885.9 259.6 895.3 261.2 898.5 262.3 900.0 263.1 890.6 264.3 879.7 265.1 887.5 265.9 898.5 267.0 911.0 268.1 920.4 269.0 923.5 270.6 922.0 272.1 918.8 273.7 914.1 275.3 906.3 276.4 898.5 277.4 894.5 278.4 904.7 279.5 917.2 281.1 923.5 282.1 917.2 283.4 912.5 285.0 906.3 286.5 895.3 288.1 879.7 289.4 864.0 290.4 851.5 291.5 843.7 293.1 839.7 295.1 837.4 296.4 834.6 297.5 842.1 298.8 856.2 299.7 868.7 300.2 875.0 301.3 887.5 302.2 875.0 303.3 859.3 304.4 849.9 305.7 843.7 306.9 842.4 308.0 848.4 309.6 853.8 310.7 864.0 311.9 876.5 313.2 885.9 314.3 876.5 315.8 867.1 317.4 863.2 319.0 859.3 320.5 853.8 321.6 843.7 322.9 842.1 324.4 843.7 326.3 841.3 327.9 839.7 329.1 838.2 329.9 845.2 331.0 856.2 332.0 867.1 333.1 875.0 334.3 883.6 335.4 873.4 336.5 860.9 337.3 853.8 338.2 860.9 339.3 868.7 340.4 876.5 341.7 885.9 342.9 895.3 344.0 896.1 344.8 889.1 345.9 876.5 346.7 859.3 347.5 843.7 348.7 846.0 350.3 849.1 351.9 847.6 353.4 849.9 355.0 846.8 356.1 840.5 357.3 836.6 358.9 835.0 359.7 842.1 360.8 856.2 362.0 868.7 363.3 879.7 364.4 890.6 365.5 900.8 366.4 893.8 367.5 885.9 368.8 892.2 370.2 893.8 371.4 898.5 372.7 906.3 373.8 910.2 375.3 911.0 376.6 920.4 377.7 912.5 378.8 896.9 379.7 879.7 380.8 862.5 381.9 848.4 382.9 843.3 384.7 844.4 386.8 843.7 388.3 842.1 389.9 838.2 391.5 833.5 392.2 842.1 393.0 853.0 393.8 865.6 394.9 878.1 396.2 890.6 397.2 904.7 398.0 915.7 399.1 922.7 400.1 917.2 401.2 907.9 402.4 896.9 403.8 881.2 405.1 865.6 406.2 848.4 407.4 835.8 409.5 833.5 410.6 840.5 411.7 851.5 412.9 864.0 414.2 876.5 415.3 889.1 416.5 903.2 417.6 914.9 418.7 919.6 420.3 920.4 421.5 922.0 422.3 923.5 423.1 917.2 424.2 901.6 425.1 885.9 426.2 870.3 427.3 857.8 428.6 847.6 430.1 842.1 431.7 841.3 433.3 839.3 434.4 843.7 435.9 845.2 437.2 849.1 438.4 854.6 439.5 862.5 440.6 871.8 441.9 881.2 443.4 885.1 444.7 878.1 445.8 865.6 447.1 849.9 448.1 842.9 449.4 838.6 451.0 841.3 452.8 845.2 454.1 851.5 455.2 859.3 456.3 871.8 457.2 884.4 458.3 896.9 459.4 907.9 460.7 915.7 462.2 918.8 464.6 921.6 466.1 921.2 467.7 919.6 469.3 917.2 470.4 914.1 471.6 907.9 472.7 911.0 474.0 914.9 475.2 910.2 476.6 909.4 477.9 903.9 479.0 893.8 480.2 885.9 481.3 882.8 482.3 890.6 483.4 900.0 484.5 907.1 485.7 908.6 487.3 906.3 488.9 900.0 490.1 890.6 491.2 882.8 492.3 873.4 493.6 868.7 495.1 864.8 496.1 871.8 497.1 878.1 498.2 885.9 499.5 893.8 500.9 900.8 502.2 904.7 503.3 903.2 504.2 911.0 505.3 916.5 506.4 918.0 507.6 912.5 508.7 901.6 510.0 889.1 511.1 876.5 512.3 862.5 513.1 848.4 514.2 839.7 515.5 835.8 516.6 834.6 517.8 836.6 520.2 835.8 522.5 835.0 523.6 833.5 524.9 835.5 526.7 836.6 528.0 839.7 529.1 846.8 530.3 855.4 531.9 860.9 533.5 864.0 535.0 867.1 536.1 875.0 537.1 889.1 538.2 903.2 539.0 913.3 539.4 916.5 540.2 901.6 541.0 882.8 541.8 868.7 542.6 860.1 543.6 867.1 545.5 871.8 546.5 881.2 547.6 893.8 548.7 906.3 549.9 913.3 551.5 918.0 553.8 920.7 556.2 921.6 558.5 922.0 560.9 922.7 562.4 920.4 563.2 911.0 564.3 893.8 565.3 875.0 566.4 856.2 567.5 844.4 568.7 836.6 570.0 834.6 571.0 837.4 572.1 842.1 573.7 844.4 575.8 847.6 576.9 842.9 577.8 836.6 579.2 835.8 580.0 843.7 580.9 848.4 582.0 859.3 583.1 875.0 584.4 890.6 585.6 903.2 587.0 910.2 588.3 893.8 589.4 884.4 589.7 882.8 591.0 870.3 592.2 856.2 593.3 843.7 594.9 837.4 596.4 835.0 597.7 837.4 598.8 846.8 600.0 859.3 601.1 873.4 602.2 887.5 603.5 901.6 604.3 912.5 605.4 918.0 606.6 912.5 608.2 907.9 609.4 905.5 610.2 903.2 611.0 909.4 612.4 913.3 613.7 918.0 614.8 918.8 616.3 915.7 618.4 914.1 619.9 917.2 622.0 919.6 623.8 921.2 625.4 918.0 626.7 909.4 627.8 896.9 628.9 881.2 629.8 870.3 630.9 866.4 632.0 876.5 633.2 889.1 634.3 900.0 635.6 911.0 636.8 920.4 638.2 925.9 640.3 927.0 641.9 923.5 643.1 915.7 644.2 901.6 645.5 890.6 646.9 885.9 648.1 882.0 649.2 890.6 650.1 901.6 651.2 912.5 652.3 919.6 653.6 922.0 655.2 919.6 657.0 918.0 659.1 915.7 660.6 911.0 661.4 898.5 661.7 875.0 662.5 853.0 663.5 842.1 664.5 838.6 665.6 841.3 666.9 848.4 668.1 854.6 669.2 862.5 670.5 871.8 671.6 882.8 672.4 895.3 673.5 909.4 674.4 920.4 675.2 922.7 676.3 915.7 677.4 903.2 678.6 890.6 679.9 878.1 681.0 870.3 682.1 862.5 683.0 860.1 684.1 870.3 685.2 879.7 686.5 889.1 687.6 895.3 688.8 897.7 690.1 900.0 691.2 890.6 692.4 882.8 693.5 873.4 694.6 859.3 695.5 842.1 696.6 836.6 698.2 835.0 700.2 836.6 702.1 839.0 703.7 841.3 705.0 846.8 706.0 856.2 706.8 867.1 707.6 879.7 708.4 893.8 709.2 904.7 710.3 910.2 711.2 914.9 712.0 917.2 712.8 911.0 713.9 906.3 715.0 900.0 716.2 890.6 717.5 881.2 718.6 875.8 719.4 879.7 720.5 890.6 721.7 901.6 723.3 908.6 724.8 912.5 726.4 914.9 728.0 914.1 729.5 917.2 731.1 920.4 732.7 925.1 733.4 927.9 734.7 922.0 736.1 915.7 737.8 909.4 739.4 905.5 741.0 901.6 742.5 898.5 744.1 897.7 745.2 901.6 746.3 904.7 747.5 901.6 748.8 898.5 749.9 893.8 751.0 887.5 752.2 882.0 753.0 890.6 754.1 901.6 755.4 912.5 756.9 920.4 758.5 925.1 759.8 925.9 761.6 923.5 763.2 920.4 764.8 914.1 766.0 904.7 767.1 893.8 768.4 879.7 769.5 865.6 770.5 853.8 771.3 859.3 772.3 868.7 773.4 881.2 774.1 896.9 774.9 909.4 775.7 912.5 776.8 911.0 777.6 903.2 778.5 893.8 779.6 886.7 780.9 889.1 782.0 890.6 783.2 893.8 784.0 899.2 784.8 890.6 785.9 882.8 786.7 870.3 787.5 857.8 788.2 848.4 789.5 842.9 790.6 848.4 791.7 856.2 792.6 862.5 793.7 859.3 794.8 857.8 796.1 857.0 797.3 859.3 798.4 860.9 799.7 865.6 800.8 870.3 802.0 864.0 803.1 865.6 804.7 860.9 806.2 862.5 807.8 865.6 809.4 862.5 809.9 879.7 811.0 881.2 811.7 890.6 812.8 900.0 814.1 907.1 815.3 903.2 816.7 900.0 818.0 898.5 819.2 895.3 820.3 903.2 821.1 911.0 821.9 913.3 822.7 903.2 823.5 890.6 824.7 879.7 826.1 871.8 827.4 864.8 829.0 861.7 830.5 859.3 831.8 850.7 832.6 859.3 833.3 871.8 834.4 885.9 835.5 898.5 836.5 907.9 837.2 911.8 838.0 903.2 839.1 895.3 840.2 887.5 841.5 876.5 842.7 868.7 844.3 864.0 845.4 868.7 847.0 875.0 848.5 878.1 849.6 882.0 850.6 876.5 851.7 879.7 852.8 887.5 853.7 896.9 854.8 906.3 855.9 915.7 856.8 923.5 858.4 927.9 860.0 923.5 861.5 917.2 862.6 909.4 863.4 898.5 864.2 881.2 865.0 864.0 865.8 851.5 866.9 847.6 868.4 846.8 870.0 845.2 871.2 840.5 872.5 835.5 873.6 842.1 874.7 854.6 875.6 868.7 876.7 884.4 877.8 898.5 878.8 909.4 879.7 913.3 880.2 911.0 881.7 906.3 883.3 901.6 884.4 893.8 885.7 881.2 886.4 859.3 887.2 850.7 888.3 848.4 889.6 852.3 891.1 857.8 893.2 860.1 894.3 854.6 895.8 857.0 897.4 859.3 898.6 865.6 899.8 876.5 900.5 890.6 901.3 903.2 902.9 905.5 904.8 906.3 906.3 909.4 907.6 915.7 908.8 921.2 910.4 921.6 911.5 917.2 913.1 912.5 914.6 903.2 915.7 890.6 916.7 876.5 917.8 862.5 918.9 848.4 920.1 844.4 921.7 842.9 923.2 843.7 924.8 839.0 926.4 835.8 927.9 834.6 929.5 838.2 931.1 843.7 932.6 849.9 933.9 853.0 934.7 857.8 935.8 853.0 937.3 848.4 938.6 843.7 939.7 838.2 941.2 835.0 942.5 835.8 943.6 841.3 945.2 842.9 946.4 848.4 947.2 857.8 948.0 870.3 948.8 882.8 949.5 895.3 950.3 904.7 951.1 896.9 952.2 884.4 953.3 871.8 954.5 857.8 955.6 846.8 956.9 845.5 958.0 848.4 959.2 856.2 960.5 867.1 961.6 879.7 962.7 893.8 963.6 906.3 964.7 914.1 966.3 920.4 967.9 926.6 969.4 927.0 970.7 920.4 971.8 911.0 972.9 900.0 974.1 889.1 975.2 878.1 976.5 868.7 977.7 859.3 979.1 851.5 980.4 848.4 982.0 852.3 983.5 859.3 985.1 868.7 986.6 875.0 988.7 874.2 990.2 873.4 991.4 867.1 992.4 861.7 994.0 857.8 995.3 851.5 996.5 846.0 997.6 843.7 998.7 851.5 999.6 864.0 1000.4 878.1 1001.2 893.8 1002.0 907.9 1002.8 918.8 1003.9 924.3 1005.4 922.7 1007.8 921.2 1010.1 918.8 1012.5 916.9 1014.4 914.9 1015.6 918.8 1016.4 909.4 1016.9 895.3 1017.5 881.2 1018.3 867.1 1019.1 854.6 1020.0 845.2 1020.8 842.9 1021.9 846.0 1023.4 849.1 1024.5 856.2 1025.5 865.6 1026.6 875.0 1027.7 882.0 1028.5 882.8 1029.4 870.3 1030.2 857.8 1031.3 846.5 1032.4 854.6 1033.6 864.0 1034.7 873.4 1036.0 882.8 1037.1 893.8 1038.3 904.7 1039.4 912.5 1040.7 919.6 1042.2 922.4 1043.5 920.4 1044.6 914.1 1045.7 901.6 1046.6 887.5 1047.4 871.8 1048.2 856.2 1049.0 842.1 1050.1 834.3 1051.6 834.3 1053.2 834.6 1055.1 835.8 1056.6 838.2 1057.9 841.3 1059.1 846.8 1060.2 854.6 1061.3 864.0 1062.6 875.0 1063.7 885.9 1064.9 896.9 1066.0 907.9 1067.0 915.7 1068.1 918.8 1069.3 921.2 1070.4 917.2 1072.0 913.3 1073.5 914.1 1075.1 911.8 1076.4 904.7 1077.5 895.3 1078.2 887.5 1079.3 880.5 1080.3 890.6 1081.4 901.6 1082.5 913.3 1083.4 911.0 1084.5 907.9 1086.1 903.9 1087.3 905.5 1088.9 907.9 1090.5 912.5 1092.0 917.2 1093.6 920.4 1094.7 921.2 1096.2 917.2 1097.8 912.5 1098.9 906.3 1100.2 898.5 1101.4 890.6 1102.8 882.8 1104.1 878.9 1104.9 890.6 1106.0 903.2 1106.9 914.1 1108.0 922.0 1109.1 926.3 1110.3 918.8 1111.6 912.5 1112.7 903.2 1113.5 890.6 1114.3 875.0 1115.0 857.8 1115.8 845.2 1116.6 838.2 1117.4 836.6 1118.5 845.2 1119.7 851.5 1121.0 857.8 1122.1 860.9 1123.7 857.0 1124.9 851.5 1126.0 843.7 1126.8 842.1 1127.9 849.9 1129.1 860.9 1130.2 873.4 1131.5 885.9 1132.7 898.5 1133.8 909.4 1135.1 917.2 1136.2 925.1 1137.4 915.7 1138.5 903.2 1139.6 887.5 1140.6 873.4 1141.7 859.3 1142.8 849.9 1144.0 844.9 1145.6 844.4 1146.8 848.4 1147.9 854.6 1149.2 860.9 1150.3 867.1 1151.8 871.8 1153.4 870.3 1155.0 864.0 1156.2 867.1 1157.8 864.8 1159.2 868.7 1160.0 879.7 1160.9 893.8 1162.0 903.2 1163.1 911.0 1164.4 917.2 1165.9 921.6 1167.5 920.4 1169.1 917.2 1169.4 916.5 1171.0 914.1 1172.5 909.4 1173.8 901.6 1174.9 887.5 1175.7 868.7 1176.4 849.9 1177.5 842.9 1178.8 841.8 1180.0 842.1 1180.8 851.5 1181.9 864.0 1183.2 878.1 1184.3 893.8 1185.4 907.9 1186.6 917.2 1188.2 923.8 1189.8 920.4 1190.8 909.4 1191.8 895.3 1192.9 879.7 1194.1 864.0 1195.2 854.6 1196.0 864.0 1197.0 878.1 1197.9 890.6 1198.8 903.2 1199.9 912.5 1200.7 917.2 1201.5 911.0 1202.6 903.2 1203.8 895.3 1205.1 887.5 1206.2 881.2 1207.3 878.9 1208.2 887.5 1209.3 898.5 1210.4 909.4 1211.4 917.2 1212.5 921.2 1214.0 917.2 1215.6 912.5 1216.7 903.2 1217.6 890.6 1218.4 876.5 1219.2 864.0 1220.3 857.8 1221.8 857.8 1223.4 857.0 1224.5 853.0 1225.8 845.2 1227.0 837.4 1228.1 834.6 1229.7 836.6 1231.2 840.5 1232.3 843.7 1233.6 848.4 1234.7 856.2 1235.6 864.0 1236.7 873.4 1237.8 882.8 1238.6 889.9 1239.4 879.7 1240.3 864.0 1241.4 849.9 1242.5 840.5 1243.5 836.6 1244.5 841.3 1245.8 846.8 1246.9 853.0 1248.0 857.8 1249.2 861.7 1250.5 863.2 1251.6 858.5 1253.2 861.7 1254.4 865.6 1255.2 876.5 1255.8 890.6 1256.5 904.7 1257.1 911.8 1258.0 903.2 1259.0 893.8 1259.9 882.8 1261.0 870.3 1261.8 857.8 1262.6 845.2 1263.7 836.6 1264.9 833.5 1267.2 833.2 1269.3 833.5 1270.9 835.8 1272.0 841.3 1273.0 849.9 1274.0 860.9 1274.8 875.0 1275.4 890.6 1276.2 906.3 1277.1 918.8 1278.2 925.1 1279.5 922.0 1280.9 915.7 1282.1 909.4 1283.4 904.7 1284.5 902.4 1285.6 907.9 1286.8 914.1 1288.1 918.0 1289.2 909.4 1290.4 898.5 1291.5 889.1 1292.8 881.2 1293.9 876.5 1294.7 879.7 1295.4 890.6 1296.5 900.0 1297.8 905.5 1298.9 896.9 1300.1 884.4 1301.2 868.7 1302.0 853.0 1302.8 842.1 1303.7 838.2 1304.8 842.1 1305.6 849.9 1306.4 859.3 1307.5 870.3 1308.4 881.2 1309.5 892.2 1310.6 903.2 1311.6 914.1 1312.7 919.1 1313.8 912.5 1314.5 898.5 1315.5 887.5 1316.6 882.0 1317.7 881.2 1318.5 890.6 1319.4 901.6 1320.5 914.1 1321.6 923.5 1322.8 927.0 1324.4 924.3 1326.8 923.2 1329.1 923.2 1331.5 920.4 1332.7 915.7 1333.5 903.2 1334.3 890.6 1335.0 878.1 1336.2 871.8 1336.9 882.8 1338.0 892.2 1339.3 901.6 1340.4 903.2 1341.6 900.0 1343.2 893.8 1344.5 885.9 1345.5 875.0 1346.6 860.9 1347.6 848.4 1348.7 841.8 1349.8 841.3 1350.7 846.8 1351.8 856.2 1352.9 865.6 1354.2 873.4 1355.4 865.6 1357.0 858.5 1358.1 857.0 1359.2 868.7 1360.4 881.2 1361.7 893.8 1362.8 903.2 1363.9 910.2 1364.8 913.3 1365.9 906.3 1367.0 900.0 1368.2 890.6 1369.5 881.2 1370.6 871.8 1372.2 861.7 1373.7 853.8 1374.8 851.5 1375.8 859.3 1376.9 863.2 1378.0 873.4 1378.9 884.4 1380.0 895.3 1381.1 906.3 1382.3 914.9 1383.6 911.0 1385.2 909.4 1387.0 910.2 1388.6 907.9 1389.8 903.2 1390.6 892.2 1391.4 879.7 1392.4 868.7 1393.6 860.1 1394.9 863.2 1396.1 864.8 1397.7 861.7 1399.2 858.5 1400.3 848.4 1401.1 837.4 1401.9 834.6 1403.5 835.5 1404.6 842.1 1405.5 849.9 1406.6 860.9 1407.7 873.4 1408.6 887.5 1409.4 901.6 1410.5 912.5 1411.8 906.3 1413.3 900.0 1414.9 893.8 1416.0 882.8 1416.8 870.3 1417.6 857.8 1418.7 846.8 1419.9 838.2 1421.2 834.0 1422.3 840.5 1423.5 848.4 1424.6 854.6 1425.7 862.5 1426.7 869.5 1427.8 867.1 1429.0 865.6 1430.1 869.5 1431.2 879.7 1432.1 890.6 1432.9 901.6 1433.7 904.7 1434.8 898.5 1435.9 887.5 1436.8 870.3 1437.6 851.5 1438.4 842.9 1439.5 842.1 1441.0 840.5 1442.6 842.1 1444.7 842.9 1446.5 843.7 1448.1 846.0 1449.7 848.0 1451.2 846.8 1452.8 847.6 1454.4 843.7 1455.6 839.0 1456.7 835.0 1458.0 834.3 1459.1 839.7 1459.7 848.4 1459.7 848.4 1460.7 859.3 1461.7 870.3 1462.8 881.2 1464.1 889.1 1465.7 896.9 1467.2 904.7 1468.8 908.6 1470.3 904.7 1471.6 896.9 1473.0 885.9 1474.3 876.5 1475.8 868.7 1477.4 864.8 1478.5 873.4 1479.8 885.9 1480.8 898.5 1481.6 909.4 1482.4 916.5 1483.2 896.9 1484.1 881.2 1485.2 871.8 1486.8 874.2 1488.8 878.1 1489.9 890.6 1491.0 901.6 1492.3 911.0 1493.4 914.1 1494.3 906.3 1495.4 900.8 1497.0 902.4 1498.8 904.7 1500.1 909.4 1501.4 920.4 1502.5 912.5 1503.5 903.2 1504.8 890.6 1506.0 878.1 1507.2 870.3 1508.4 873.4 1509.5 865.6 1510.8 859.3 1512.2 861.7 1513.4 865.6 1514.2 876.5 1515.5 889.1 1516.5 893.8 1517.6 899.2 1519.7 898.5 1521.7 897.7 1523.3 890.6 1524.4 895.3 1525.9 898.5 1527.0 906.3 1527.8 917.2 1528.6 925.1 1529.8 922.7 1531.4 921.6 1533.0 918.8 1534.5 914.9 1535.8 909.4 1536.4 895.3 1537.1 879.7 1537.7 865.6 1538.5 854.6 1539.2 864.0 1540.0 878.1 1541.1 890.6 1542.1 901.6 1543.2 911.0 1544.3 917.2 1545.8 918.5 1547.4 919.3 1548.6 917.2 1549.9 913.3 1550.7 904.7 1551.5 893.8 1552.6 882.8 1553.7 873.4 1554.9 864.0 1556.2 856.2 1557.2 849.9 1558.3 846.8 1559.6 840.5 1560.9 838.2 1562.4 837.7 1563.5 836.6 1564.6 842.1 1565.9 846.8 1567.1 851.5 1568.2 848.4 1569.5 845.2 1570.6 839.0 1571.7 835.5 1572.6 842.1 1573.7 849.9 1574.8 857.8 1575.7 865.6 1576.8 873.4 1578.1 879.7 1579.2 881.2 1580.3 882.8 1581.2 876.5 1582.3 870.3 1583.4 866.4 1584.3 873.4 1585.4 882.8 1586.5 892.2 1587.5 901.6 1588.6 911.0 1589.7 920.4 1590.9 925.9 1592.0 917.2 1593.0 904.7 1594.0 890.6 1595.2 878.1 1596.4 867.1 1597.7 858.5 1599.1 856.2 1600.6 857.0 1601.6 849.9 1602.3 840.5 1603.4 849.9 1604.7 857.8 1605.8 864.0 1607.0 865.6 1608.1 856.2 1609.4 846.0 1610.5 846.8 1612.1 849.1 1613.3 853.8 1614.4 862.5 1615.5 873.4 1616.8 871.8 1617.8 862.5 1618.8 851.5 1619.6 845.2 1620.7 848.4 1622.2 850.7 1623.8 851.5 1625.4 848.4 1626.9 846.8 1628.2 850.7 1629.8 856.2 1631.3 855.4 1632.4 857.0 1634.0 853.0 1635.1 850.7 1636.3 860.1 1637.9 857.8 1639.5 859.3 1640.7 854.6 1641.8 848.4 1642.9 842.9 1644.2 839.0 1645.2 840.5 1646.2 848.4 1647.0 859.3 1647.8 873.4 1648.5 887.5 1649.3 900.0 1650.1 911.0 1651.2 918.8 1652.8 917.2 1654.3 914.9 1656.4 912.5 1658.2 909.4 1659.0 901.6 1659.8 890.6 1660.6 878.1 1661.4 865.6 1662.2 853.0 1662.9 843.7 1664.0 839.0 1665.3 841.3 1666.9 842.9 1668.4 841.8 1670.0 843.7 1671.6 846.8 1672.7 851.5 1673.6 860.9 1674.4 873.4 1675.2 885.9 1675.9 898.5 1676.7 911.0 1677.8 922.0 1678.6 927.0 1679.8 922.0 1681.4 918.8 1682.5 912.5 1683.3 901.6 1684.1 887.5 1684.9 871.8 1685.7 856.2 1686.4 843.7 1687.5 839.0 1688.8 842.1 1689.9 849.9 1690.8 859.3 1691.9 870.3 1693.0 881.2 1694.0 893.8 1694.7 906.3 1695.5 917.2 1696.6 925.1 1698.2 925.9 1699.7 923.5 1701.0 917.2 1701.8 907.9 1702.6 895.3 1703.3 881.2 1704.0 867.1 1704.8 853.0 1705.5 842.9 1706.5 839.7 1707.2 851.5 1708.0 864.0 1708.8 876.5 1709.6 889.1 1710.4 900.0 1711.2 908.6 1712.3 901.6 1713.4 892.2 1714.6 881.2 1715.7 870.3 1716.5 859.3 1717.4 857.8 1718.5 864.0 1719.6 875.0 1720.6 885.9 1721.7 896.9 1722.8 904.4 1724.0 898.5 1725.6 893.0 1726.8 882.8 1727.6 870.3 1728.4 856.2 1729.2 863.2 1730.3 868.7 1731.5 865.6 1733.1 861.7 1734.2 853.0 1735.3 844.4 1736.5 848.4 1737.8 855.4 1738.9 864.0 1740.0 875.0 1740.9 885.9 1742.0 896.9 1743.1 906.3 1744.0 911.0 1744.8 898.5 1745.9 885.9 1747.0 875.0 1748.0 862.5 1748.8 848.4 1749.5 837.4 1750.9 834.7 1752.5 833.0 1754.2 834.1 1755.3 838.1 1756.2 844.8 1757.0 855.9 1757.8 873.8 1759.0 883.9 1759.8 890.6 1760.9 906.2 1762.0 916.3 1763.7 923.0 1764.8 926.4 1765.7 926.4" stroke="#000" stroke-width="1" shape-rendering="crispEdges" fill="none" stroke-linejoin="bevel"/>
<path d="M24.5 883.0 25.5 888.4 26.5 894.7 27.5 900.6 28.5 906.3 29.5 911.2 30.5 911.8 31.5 908.0 32.5 901.5 33.5 893.3 34.5 883.8 35.5 873.4 36.5 863.6 37.5 855.8 38.5 849.6 39.5 844.9 40.5 841.4 41.5 839.2 42.5 838.6 43.5 839.6 44.5 842.4 45.5 847.0 46.5 852.9 47.5 859.9 48.5 868.1 49.5 878.1 50.5 888.7 51.5 899.4 52.5 909.4 53.5 917.5 54.5 922.9 55.5 925.0 56.5 924.7 57.5 922.6 58.5 919.7 59.5 916.3 60.5 913.3 61.5 911.1 62.5 910.1 63.5 910.3 64.5 911.4 65.5 913.3 66.5 915.0 67.5 916.3 68.5 917.0 69.5 917.6 70.5 918.9 71.5 920.8 72.5 922.7 73.5 923.6 74.5 923.2 75.5 920.8 76.5 916.2 77.5 909.5 78.5 901.8 79.5 893.8 80.5 885.3 81.5 877.0 82.5 869.2 83.5 862.2 84.5 856.7 85.5 852.5 86.5 849.4 87.5 846.9 88.5 845.0 89.5 842.9 90.5 841.1 91.5 840.0 92.5 839.4 93.5 839.8 94.5 841.3 95.5 844.6 96.5 849.4 97.5 854.0 98.5 858.3 99.5 860.2 100.5 859.4 101.5 855.3 102.5 849.9 103.5 845.0 104.5 841.1 105.5 839.4 106.5 838.8 107.5 838.8 108.5 838.7 109.5 837.8 110.5 836.9 111.5 836.6 112.5 838.0 113.5 841.3 114.5 846.9 115.5 854.8 116.5 865.1 117.5 876.6 118.5 887.4 119.5 896.9 120.5 905.0 121.5 911.4 122.5 915.7 123.5 918.6 124.5 921.2 125.5 923.0 126.5 923.7 127.5 923.2 128.5 922.0 129.5 920.5 130.5 919.1 131.5 918.2 132.5 918.2 133.5 919.1 134.5 920.3 135.5 921.4 136.5 922.2 137.5 922.6 138.5 922.4 139.5 921.4 140.5 918.9 141.5 914.2 142.5 906.7 143.5 897.1 144.5 886.2 145.5 875.0 146.5 865.8 147.5 859.7 148.5 857.0 149.5 856.6 150.5 857.0 151.5 856.5 152.5 854.3 153.5 851.2 154.5 849.0 155.5 849.9 156.5 854.2 157.5 861.6 158.5 870.8 159.5 880.6 160.5 888.2 161.5 893.1 162.5 895.2 163.5 894.7 164.5 891.2 165.5 885.0 166.5 875.8 167.5 864.9 168.5 855.5 169.5 849.6 170.5 847.8 171.5 850.2 172.5 856.9 173.5 866.1 174.5 875.3 175.5 884.0 176.5 891.9 177.5 899.2 178.5 905.5 179.5 908.9 180.5 908.9 181.5 905.9 182.5 900.5 183.5 893.6 184.5 887.2 185.5 884.3 186.5 885.5 187.5 890.1 188.5 896.9 189.5 903.2 190.5 907.4 191.5 908.0 192.5 905.3 193.5 900.2 194.5 894.4 195.5 890.2 196.5 887.9 197.5 887.3 198.5 888.6 199.5 891.9 200.5 896.5 201.5 901.5 202.5 905.8 203.5 908.4 204.5 908.8 205.5 907.0 206.5 903.3 207.5 898.5 208.5 894.5 209.5 891.6 210.5 889.9 211.5 890.1 212.5 892.8 213.5 897.4 214.5 902.6 215.5 908.0 216.5 913.0 217.5 915.7 218.5 914.8 219.5 909.7 220.5 900.4 221.5 888.0 222.5 874.6 223.5 864.3 224.5 858.5 225.5 857.7 226.5 862.1 227.5 870.7 228.5 880.8 229.5 890.2 230.5 898.0 231.5 902.7 232.5 902.0 233.5 895.5 234.5 884.4 235.5 871.3 236.5 858.5 237.5 848.2 238.5 841.8 239.5 838.8 240.5 837.8 241.5 837.2 242.5 836.5 243.5 835.9 244.5 835.4 245.5 835.8 246.5 838.4 247.5 844.5 248.5 853.1 249.5 860.5 250.5 866.0 251.5 868.8 252.5 867.8 253.5 863.2 254.5 857.8 255.5 854.8 256.5 855.3 257.5 858.9 258.5 864.8 259.5 872.5 260.5 880.7 261.5 887.7 262.5 892.8 263.5 894.3 264.5 893.1 265.5 892.1 266.5 893.0 267.5 895.6 268.5 900.3 269.5 907.3 270.5 914.3 271.5 918.7 272.5 920.5 273.5 920.2 274.5 918.2 275.5 915.1 276.5 911.1 277.5 906.8 278.5 904.2 279.5 904.3 280.5 906.4 281.5 909.9 282.5 913.5 283.5 916.3 284.5 916.4 285.5 914.0 286.5 909.4 287.5 903.8 288.5 897.0 289.5 888.7 290.5 879.0 291.5 869.0 292.5 859.7 293.5 851.7 294.5 845.7 295.5 841.6 296.5 839.0 297.5 838.5 298.5 840.2 299.5 844.5 300.5 851.3 301.5 860.1 302.5 867.0 303.5 869.9 304.5 869.1 305.5 864.8 306.5 857.9 307.5 851.1 308.5 847.8 309.5 847.2 310.5 849.3 311.5 854.0 312.5 860.5 313.5 867.3 314.5 872.0 315.5 874.8 316.5 875.1 317.5 873.1 318.5 869.2 319.5 865.1 320.5 861.6 321.5 857.9 322.5 853.9 323.5 850.2 324.5 847.2 325.5 844.7 326.5 842.8 327.5 842.1 328.5 841.6 329.5 841.0 330.5 841.9 331.5 844.9 332.5 850.0 333.5 856.6 334.5 864.4 335.5 870.2 336.5 872.1 337.5 870.6 338.5 868.4 339.5 866.3 340.5 865.5 341.5 867.9 342.5 873.5 343.5 880.5 344.5 885.9 345.5 888.2 346.5 886.4 347.5 879.5 348.5 870.7 349.5 861.8 350.5 854.4 351.5 849.0 352.5 847.1 353.5 848.1 354.5 848.5 355.5 848.0 356.5 846.5 357.5 844.5 358.5 842.1 359.5 840.1 360.5 840.4 361.5 843.7 362.5 849.5 363.5 857.4 364.5 867.1 365.5 877.2 366.5 884.4 367.5 888.4 368.5 891.1 369.5 892.7 370.5 892.7 371.5 892.5 372.5 894.7 373.5 898.5 374.5 902.0 375.5 905.3 376.5 909.2 377.5 912.0 378.5 911.8 379.5 907.9 380.5 900.8 381.5 890.5 382.5 877.4 383.5 865.1 384.5 855.5 385.5 849.0 386.5 845.3 387.5 843.9 388.5 843.5 389.5 842.8 390.5 841.5 391.5 839.7 392.5 839.5 393.5 842.0 394.5 847.3 395.5 855.1 396.5 865.3 397.5 877.6 398.5 890.0 399.5 900.4 400.5 907.6 401.5 911.4 402.5 911.5 403.5 907.3 404.5 899.3 405.5 889.1 406.5 877.6 407.5 865.8 408.5 855.1 409.5 846.3 410.5 840.6 411.5 839.1 412.5 841.7 413.5 847.5 414.5 855.3 415.5 865.1 416.5 875.5 417.5 886.2 418.5 896.3 419.5 904.9 420.5 911.7 421.5 916.7 422.5 919.8 423.5 919.7 424.5 916.4 425.5 909.9 426.5 900.8 427.5 889.3 428.5 876.6 429.5 865.1 430.5 856.0 431.5 849.5 432.5 845.1 433.5 842.5 434.5 841.7 435.5 841.9 436.5 842.7 437.5 844.2 438.5 846.7 439.5 850.2 440.5 854.7 441.5 860.3 442.5 866.6 443.5 872.6 444.5 876.9 445.5 878.4 446.5 876.1 447.5 870.5 448.5 863.1 449.5 855.1 450.5 848.4 451.5 843.9 452.5 842.1 453.5 842.4 454.5 844.6 455.5 848.4 456.5 853.9 457.5 861.4 458.5 870.6 459.5 880.8 460.5 891.2 461.5 900.5 462.5 907.9 463.5 913.4 464.5 917.0 465.5 919.2 466.5 920.2 467.5 920.6 468.5 920.5 469.5 919.9 470.5 918.6 471.5 916.5 472.5 914.5 473.5 913.2 474.5 912.5 475.5 911.5 476.5 911.0 477.5 910.7 478.5 908.8 479.5 904.8 480.5 900.2 481.5 895.4 482.5 892.1 483.5 891.0 484.5 892.7 485.5 896.2 486.5 900.4 487.5 904.1 488.5 905.5 489.5 904.6 490.5 901.4 491.5 896.7 492.5 890.7 493.5 884.4 494.5 878.4 495.5 873.5 496.5 871.0 497.5 871.1 498.5 873.7 499.5 878.0 500.5 883.7 501.5 889.6 502.5 894.8 503.5 898.8 504.5 902.8 505.5 906.6 506.5 909.8 507.5 911.8 508.5 912.3 509.5 910.4 510.5 905.4 511.5 897.8 512.5 888.1 513.5 876.6 514.5 865.5 515.5 855.5 516.5 847.1 517.5 841.0 518.5 837.6 519.5 836.2 520.5 835.8 521.5 835.8 522.5 835.8 523.5 835.4 524.5 835.1 525.5 835.0 526.5 835.2 527.5 835.6 528.5 836.8 529.5 839.3 530.5 842.8 531.5 846.9 532.5 851.4 533.5 855.8 534.5 859.7 535.5 862.8 536.5 866.5 537.5 872.1 538.5 879.6 539.5 888.7 540.5 894.9 541.5 896.1 542.5 892.4 543.5 886.4 544.5 878.8 545.5 871.6 546.5 869.8 547.5 873.3 548.5 880.5 549.5 888.2 550.5 896.3 551.5 904.2 552.5 910.5 553.5 914.9 554.5 917.6 555.5 919.2 556.5 920.3 557.5 920.9 558.5 921.4 559.5 921.7 560.5 921.9 561.5 922.1 562.5 921.9 563.5 919.8 564.5 914.9 565.5 906.4 566.5 894.8 567.5 881.2 568.5 867.2 569.5 854.9 570.5 845.8 571.5 840.6 572.5 838.7 573.5 838.9 574.5 840.4 575.5 842.5 576.5 844.1 577.5 844.2 578.5 843.0 579.5 841.7 580.5 841.5 581.5 842.3 582.5 845.8 583.5 852.8 584.5 862.4 585.5 873.0 586.5 883.7 587.5 892.9 588.5 897.5 589.5 898.0 590.5 895.0 591.5 888.4 592.5 878.8 593.5 868.7 594.5 859.6 595.5 851.4 596.5 844.7 597.5 840.1 598.5 838.6 599.5 840.3 600.5 844.6 601.5 851.6 602.5 861.0 603.5 871.9 604.5 883.7 605.5 894.7 606.5 903.1 607.5 908.5 608.5 911.2 609.5 911.3 610.5 909.5 611.5 908.3 612.5 908.4 613.5 909.7 614.5 911.8 615.5 914.2 616.5 915.8 617.5 916.5 618.5 916.4 619.5 916.1 620.5 915.9 621.5 916.2 622.5 917.1 623.5 918.2 624.5 919.2 625.5 919.4 626.5 918.4 627.5 915.4 628.5 909.9 629.5 901.9 630.5 892.7 631.5 884.3 632.5 879.0 633.5 877.5 634.5 880.4 635.5 887.0 636.5 895.7 637.5 904.4 638.5 911.9 639.5 917.8 640.5 922.0 641.5 924.4 642.5 924.7 643.5 922.8 644.5 918.4 645.5 912.2 646.5 905.3 647.5 898.3 648.5 892.1 649.5 889.1 650.5 890.1 651.5 894.1 652.5 900.0 653.5 906.9 654.5 913.1 655.5 917.3 656.5 919.3 657.5 919.7 658.5 919.0 659.5 917.9 660.5 916.4 661.5 912.9 662.5 902.5 663.5 889.3 664.5 875.4 665.5 862.1 666.5 850.4 667.5 844.8 668.5 845.6 669.5 849.5 670.5 855.0 671.5 861.8 672.5 870.0 673.5 879.8 674.5 890.5 675.5 900.6 676.5 908.1 677.5 911.7 678.5 910.8 679.5 905.8 680.5 897.5 681.5 888.3 682.5 879.5 683.5 872.7 684.5 869.3 685.5 869.3 686.5 872.0 687.5 877.2 688.5 883.7 689.5 889.4 690.5 893.6 691.5 894.8 692.5 893.6 693.5 890.1 694.5 884.0 695.5 874.7 696.5 864.6 697.5 855.3 698.5 847.1 699.5 840.8 700.5 837.1 701.5 836.4 702.5 836.8 703.5 837.8 704.5 839.2 705.5 841.6 706.5 845.6 707.5 851.9 708.5 861.2 709.5 872.5 710.5 884.2 711.5 895.3 712.5 904.3 713.5 909.2 714.5 910.3 715.5 908.5 716.5 904.6 717.5 898.5 718.5 892.2 719.5 887.3 720.5 884.9 721.5 885.5 722.5 888.6 723.5 893.7 724.5 899.9 725.5 905.3 726.5 909.2 727.5 911.6 728.5 913.2 729.5 914.4 730.5 915.6 731.5 916.9 732.5 918.5 733.5 920.8 734.5 922.4 735.5 922.7 736.5 921.9 737.5 920.0 738.5 916.9 739.5 913.1 740.5 909.8 741.5 906.8 742.5 904.2 743.5 902.1 744.5 900.5 745.5 899.9 746.5 900.3 747.5 900.7 748.5 901.0 749.5 900.7 750.5 899.2 751.5 896.2 752.5 892.6 753.5 891.1 754.5 891.8 755.5 894.9 756.5 900.0 757.5 906.7 758.5 913.4 759.5 918.5 760.5 921.8 761.5 923.5 762.5 924.1 763.5 923.6 764.5 921.9 765.5 919.2 766.5 915.2 767.5 909.6 768.5 902.2 769.5 893.2 770.5 882.9 771.5 874.2 772.5 868.9 773.5 867.7 774.5 871.8 775.5 880.5 776.5 890.7 777.5 898.7 778.5 902.8 779.5 903.0 780.5 899.7 781.5 895.7 782.5 892.2 783.5 890.8 784.5 891.5 785.5 891.5 786.5 889.5 787.5 884.2 788.5 876.4 789.5 866.8 790.5 858.5 791.5 852.9 792.5 851.2 793.5 852.3 794.5 854.6 795.5 857.0 796.5 858.4 797.5 858.9 798.5 858.8 799.5 859.6 800.5 861.4 801.5 863.4 802.5 864.5 803.5 865.4 804.5 865.5 805.5 864.7 806.5 863.5 807.5 863.3 808.5 863.2 809.5 863.4 810.5 866.8 811.5 870.9 812.5 876.7 813.5 883.4 814.5 891.1 815.5 896.7 816.5 900.3 817.5 902.0 818.5 901.8 819.5 900.3 820.5 899.8 821.5 901.3 822.5 903.0 823.5 902.2 824.5 899.9 825.5 896.0 826.5 889.5 827.5 881.0 828.5 873.9 829.5 869.0 830.5 865.3 831.5 861.7 832.5 859.4 833.5 860.4 834.5 864.3 835.5 870.5 836.5 879.2 837.5 889.6 838.5 896.8 839.5 900.0 840.5 899.6 841.5 895.7 842.5 888.9 843.5 881.8 844.5 875.7 845.5 871.5 846.5 869.5 847.5 869.6 848.5 871.1 849.5 873.8 850.5 876.1 851.5 877.6 852.5 879.4 853.5 882.3 854.5 886.4 855.5 891.7 856.5 899.2 857.5 907.2 858.5 914.4 859.5 919.6 860.5 922.6 861.5 923.4 862.5 921.5 863.5 916.9 864.5 908.4 865.5 896.7 866.5 883.9 867.5 871.5 868.5 860.5 869.5 852.2 870.5 847.7 871.5 845.4 872.5 843.2 873.5 841.9 874.5 842.5 875.5 845.6 876.5 852.0 877.5 861.6 878.5 873.6 879.5 885.9 880.5 895.9 881.5 902.8 882.5 906.5 883.5 907.2 884.5 904.8 885.5 899.9 886.5 892.0 887.5 882.1 888.5 872.2 889.5 863.6 890.5 857.0 891.5 853.4 892.5 853.9 893.5 855.7 894.5 856.7 895.5 857.3 896.5 857.5 897.5 857.7 898.5 858.4 899.5 860.9 900.5 866.4 901.5 874.3 902.5 882.7 903.5 890.9 904.5 898.0 905.5 903.4 906.5 906.3 907.5 908.1 908.5 910.6 909.5 913.4 910.5 916.1 911.5 917.9 912.5 918.6 913.5 917.7 914.5 915.0 915.5 910.4 916.5 903.6 917.5 895.0 918.5 884.6 919.5 873.4 920.5 863.1 921.5 854.6 922.5 848.6 923.5 845.1 924.5 843.3 925.5 841.9 926.5 840.5 927.5 839.1 928.5 837.6 929.5 836.8 930.5 837.0 931.5 838.4 932.5 840.7 933.5 843.7 934.5 847.1 935.5 850.1 936.5 851.7 937.5 852.1 938.5 851.2 939.5 849.0 940.5 845.4 941.5 842.2 942.5 839.5 943.5 838.2 944.5 838.0 945.5 839.0 946.5 841.1 947.5 845.4 948.5 852.2 949.5 861.1 950.5 871.9 951.5 881.0 952.5 886.8 953.5 887.9 954.5 884.1 955.5 875.6 956.5 865.7 957.5 857.8 958.5 852.7 959.5 850.7 960.5 852.3 961.5 857.4 962.5 865.0 963.5 874.7 964.5 885.2 965.5 895.3 966.5 904.5 967.5 912.3 968.5 918.1 969.5 921.8 970.5 923.5 971.5 923.0 972.5 920.2 973.5 914.9 974.5 907.8 975.5 899.2 976.5 890.3 977.5 881.6 978.5 873.4 979.5 865.9 980.5 859.7 981.5 855.4 982.5 853.0 983.5 852.7 984.5 854.5 985.5 858.0 986.5 862.4 987.5 866.6 988.5 870.0 989.5 872.4 990.5 873.5 991.5 872.9 992.5 870.7 993.5 868.0 994.5 864.8 995.5 860.9 996.5 856.6 997.5 852.8 998.5 850.5 999.5 850.5 1000.5 854.2 1001.5 862.3 1002.5 874.2 1003.5 888.0 1004.5 901.0 1005.5 911.4 1006.5 918.3 1007.5 921.6 1008.5 922.3 1009.5 921.6 1010.5 920.8 1011.5 919.9 1012.5 919.1 1013.5 918.2 1014.5 917.3 1015.5 917.0 1016.5 915.6 1017.5 910.1 1018.5 901.3 1019.5 889.9 1020.5 876.9 1021.5 863.8 1022.5 854.1 1023.5 849.0 1024.5 847.9 1025.5 850.7 1026.5 855.9 1027.5 862.0 1028.5 868.3 1029.5 872.2 1030.5 872.1 1031.5 868.6 1032.5 864.6 1033.5 860.9 1034.5 859.1 1035.5 861.3 1036.5 867.4 1037.5 875.6 1038.5 884.0 1039.5 892.4 1040.5 900.4 1041.5 907.6 1042.5 913.3 1043.5 917.2 1044.5 918.7 1045.5 917.4 1046.5 912.6 1047.5 904.2 1048.5 892.2 1049.5 877.9 1050.5 863.8 1051.5 851.7 1052.5 842.6 1053.5 837.0 1054.5 835.0 1055.5 834.9 1056.5 835.5 1057.5 836.4 1058.5 838.0 1059.5 840.3 1060.5 843.7 1061.5 848.5 1062.5 854.6 1063.5 861.9 1064.5 870.2 1065.5 879.1 1066.5 888.3 1067.5 897.2 1068.5 905.0 1069.5 911.2 1070.5 915.4 1071.5 917.3 1072.5 917.2 1073.5 916.5 1074.5 915.3 1075.5 913.7 1076.5 911.6 1077.5 908.6 1078.5 903.9 1079.5 898.2 1080.5 894.2 1081.5 892.7 1082.5 894.3 1083.5 897.7 1084.5 902.2 1085.5 906.0 1086.5 907.7 1087.5 907.7 1088.5 906.7 1089.5 906.4 1090.5 907.3 1091.5 909.1 1092.5 911.4 1093.5 913.9 1094.5 916.3 1095.5 918.0 1096.5 918.7 1097.5 918.4 1098.5 916.8 1099.5 913.9 1100.5 909.8 1101.5 904.9 1102.5 899.5 1103.5 893.9 1104.5 889.3 1105.5 888.1 1106.5 890.2 1107.5 895.2 1108.5 902.3 1109.5 910.5 1110.5 916.2 1111.5 918.7 1112.5 917.8 1113.5 913.2 1114.5 904.2 1115.5 891.9 1116.5 878.2 1117.5 864.8 1118.5 854.1 1119.5 847.5 1120.5 845.5 1121.5 847.6 1122.5 851.5 1123.5 854.9 1124.5 856.4 1125.5 856.0 1126.5 853.6 1127.5 850.9 1128.5 849.8 1129.5 850.8 1130.5 854.7 1131.5 861.5 1132.5 870.7 1133.5 880.6 1134.5 890.5 1135.5 899.7 1136.5 907.9 1137.5 913.1 1138.5 914.6 1139.5 911.8 1140.5 905.2 1141.5 894.8 1142.5 882.7 1143.5 871.0 1144.5 861.0 1145.5 853.5 1146.5 849.0 1147.5 847.4 1148.5 848.4 1149.5 851.2 1150.5 855.2 1151.5 859.7 1152.5 863.9 1153.5 867.0 1154.5 868.5 1155.5 868.6 1156.5 868.3 1157.5 867.2 1158.5 866.3 1159.5 866.6 1160.5 870.0 1161.5 875.5 1162.5 882.5 1163.5 890.9 1164.5 899.8 1165.5 907.7 1166.5 913.3 1167.5 916.9 1168.5 918.8 1169.5 919.3 1170.5 918.8 1171.5 917.4 1172.5 915.4 1173.5 912.7 1174.5 908.7 1175.5 902.0 1176.5 891.2 1177.5 879.0 1178.5 867.1 1179.5 856.3 1180.5 848.3 1181.5 846.3 1182.5 849.9 1183.5 856.5 1184.5 865.8 1185.5 877.3 1186.5 889.0 1187.5 899.5 1188.5 908.6 1189.5 915.0 1190.5 917.9 1191.5 916.7 1192.5 911.5 1193.5 903.0 1194.5 892.3 1195.5 880.9 1196.5 873.1 1197.5 870.5 1198.5 872.9 1199.5 879.7 1200.5 889.8 1201.5 899.4 1202.5 905.0 1203.5 906.9 1204.5 905.4 1205.5 901.0 1206.5 894.8 1207.5 889.5 1208.5 886.8 1209.5 887.1 1210.5 890.3 1211.5 896.2 1212.5 903.5 1213.5 910.1 1214.5 914.5 1215.5 916.5 1216.5 915.6 1217.5 911.4 1218.5 904.0 1219.5 894.3 1220.5 884.1 1221.5 874.4 1222.5 866.3 1223.5 860.6 1224.5 857.5 1225.5 855.2 1226.5 852.4 1227.5 848.6 1228.5 844.6 1229.5 841.0 1230.5 838.5 1231.5 837.6 1232.5 838.4 1233.5 840.5 1234.5 843.6 1235.5 848.0 1236.5 853.4 1237.5 859.9 1238.5 867.5 1239.5 873.3 1240.5 874.9 1241.5 872.7 1242.5 867.1 1243.5 859.1 1244.5 850.5 1245.5 845.2 1246.5 843.4 1247.5 844.7 1248.5 848.1 1249.5 852.4 1250.5 856.2 1251.5 858.7 1252.5 860.1 1253.5 861.1 1254.5 862.0 1255.5 864.9 1256.5 871.7 1257.5 880.8 1258.5 888.2 1259.5 893.1 1260.5 894.8 1261.5 890.7 1262.5 880.3 1263.5 868.3 1264.5 857.2 1265.5 847.9 1266.5 840.6 1267.5 836.1 1268.5 834.1 1269.5 833.5 1270.5 833.6 1271.5 834.4 1272.5 836.3 1273.5 839.7 1274.5 845.5 1275.5 855.0 1276.5 867.8 1277.5 882.1 1278.5 896.0 1279.5 907.8 1280.5 915.7 1281.5 918.8 1282.5 917.9 1283.5 914.9 1284.5 911.1 1285.5 908.4 1286.5 907.5 1287.5 908.2 1288.5 909.8 1289.5 910.7 1290.5 910.1 1291.5 907.0 1292.5 901.8 1293.5 894.9 1294.5 888.6 1295.5 885.5 1296.5 885.8 1297.5 888.5 1298.5 892.2 1299.5 895.1 1300.5 895.3 1301.5 890.7 1302.5 881.5 1303.5 869.9 1304.5 859.4 1305.5 851.7 1306.5 848.3 1307.5 849.9 1308.5 856.2 1309.5 865.3 1310.5 875.7 1311.5 886.4 1312.5 896.3 1313.5 904.1 1314.5 907.7 1315.5 907.0 1316.5 903.2 1317.5 897.2 1318.5 891.8 1319.5 889.7 1320.5 892.3 1321.5 898.5 1322.5 906.4 1323.5 914.2 1324.5 919.8 1325.5 923.2 1326.5 924.5 1327.5 924.4 1328.5 923.9 1329.5 923.4 1330.5 923.0 1331.5 922.5 1332.5 921.4 1333.5 918.5 1334.5 912.7 1335.5 904.5 1336.5 896.0 1337.5 889.9 1338.5 886.2 1339.5 886.4 1340.5 890.0 1341.5 894.8 1342.5 898.1 1343.5 898.7 1344.5 896.9 1345.5 892.5 1346.5 885.9 1347.5 877.5 1348.5 868.2 1349.5 859.3 1350.5 852.2 1351.5 848.3 1352.5 848.3 1353.5 851.9 1354.5 857.3 1355.5 861.8 1356.5 864.5 1357.5 865.0 1358.5 864.1 1359.5 863.8 1360.5 865.6 1361.5 870.1 1362.5 877.2 1363.5 886.1 1364.5 894.7 1365.5 901.3 1366.5 904.9 1367.5 905.7 1368.5 903.5 1369.5 898.8 1370.5 892.0 1371.5 884.8 1372.5 877.5 1373.5 870.6 1374.5 864.3 1375.5 859.9 1376.5 858.1 1377.5 858.5 1378.5 861.7 1379.5 867.8 1380.5 876.1 1381.5 884.9 1382.5 894.0 1383.5 901.4 1384.5 906.5 1385.5 909.6 1386.5 910.9 1387.5 910.7 1388.5 909.8 1389.5 908.8 1390.5 906.6 1391.5 901.7 1392.5 894.5 1393.5 886.1 1394.5 877.8 1395.5 870.7 1396.5 865.9 1397.5 863.4 1398.5 862.4 1399.5 861.8 1400.5 859.3 1401.5 854.5 1402.5 849.3 1403.5 844.5 1404.5 841.0 1405.5 839.8 1406.5 842.4 1407.5 848.3 1408.5 856.7 1409.5 867.8 1410.5 879.8 1411.5 890.1 1412.5 897.8 1413.5 902.5 1414.5 903.8 1415.5 901.3 1416.5 895.4 1417.5 887.5 1418.5 878.2 1419.5 868.1 1420.5 857.7 1421.5 848.6 1422.5 843.0 1423.5 841.2 1424.5 842.2 1425.5 845.8 1426.5 851.4 1427.5 857.0 1428.5 861.2 1429.5 864.3 1430.5 867.1 1431.5 870.3 1432.5 874.6 1433.5 881.1 1434.5 887.6 1435.5 892.3 1436.5 893.4 1437.5 888.8 1438.5 879.0 1439.5 867.9 1440.5 857.5 1441.5 848.8 1442.5 843.4 1443.5 841.8 1444.5 841.8 1445.5 842.0 1446.5 842.5 1447.5 843.2 1448.5 843.9 1449.5 844.8 1450.5 845.7 1451.5 846.3 1452.5 846.9 1453.5 847.1 1454.5 846.6 1455.5 845.2 1456.5 843.3 1457.5 841.1 1458.5 839.0 1459.5 838.5 1460.5 840.7 1461.5 845.5 1462.5 852.7 1463.5 861.7 1464.5 871.1 1465.5 879.5 1466.5 886.7 1467.5 892.9 1468.5 897.9 1469.5 901.7 1470.5 904.0 1471.5 904.3 1472.5 902.5 1473.5 898.5 1474.5 892.9 1475.5 886.6 1476.5 880.3 1477.5 874.8 1478.5 871.8 1479.5 871.8 1480.5 874.9 1481.5 881.2 1482.5 889.7 1483.5 895.1 1484.5 896.1 1485.5 893.8 1486.5 889.4 1487.5 883.1 1488.5 877.3 1489.5 876.4 1490.5 879.6 1491.5 885.1 1492.5 891.7 1493.5 898.4 1494.5 903.6 1495.5 906.1 1496.5 906.6 1497.5 905.9 1498.5 904.4 1499.5 903.5 1500.5 904.7 1501.5 907.8 1502.5 910.0 1503.5 910.4 1504.5 908.9 1505.5 905.0 1506.5 898.1 1507.5 889.6 1508.5 882.8 1509.5 876.6 1510.5 871.3 1511.5 867.4 1512.5 865.4 1513.5 864.2 1514.5 865.2 1515.5 869.3 1516.5 875.1 1517.5 881.7 1518.5 888.2 1519.5 893.4 1520.5 896.4 1521.5 897.8 1522.5 897.9 1523.5 896.6 1524.5 895.8 1525.5 895.6 1526.5 896.0 1527.5 898.2 1528.5 903.4 1529.5 909.0 1530.5 913.9 1531.5 918.1 1532.5 921.1 1533.5 921.5 1534.5 920.0 1535.5 918.0 1536.5 913.9 1537.5 905.7 1538.5 894.6 1539.5 885.0 1540.5 878.9 1541.5 875.9 1542.5 878.6 1543.5 886.9 1544.5 897.6 1545.5 905.8 1546.5 911.7 1547.5 915.6 1548.5 917.6 1549.5 917.8 1550.5 916.4 1551.5 912.5 1552.5 906.5 1553.5 898.9 1554.5 890.2 1555.5 880.9 1556.5 872.1 1557.5 864.7 1558.5 858.5 1559.5 852.9 1560.5 848.2 1561.5 844.4 1562.5 841.7 1563.5 839.5 1564.5 838.7 1565.5 839.4 1566.5 841.2 1567.5 843.5 1568.5 845.5 1569.5 846.9 1570.5 846.6 1571.5 844.9 1572.5 843.0 1573.5 842.4 1574.5 843.7 1575.5 846.9 1576.5 852.4 1577.5 859.4 1578.5 866.1 1579.5 871.8 1580.5 876.2 1581.5 878.2 1582.5 877.9 1583.5 876.0 1584.5 874.6 1585.5 874.4 1586.5 876.2 1587.5 880.9 1588.5 888.0 1589.5 896.7 1590.5 905.1 1591.5 912.0 1592.5 915.6 1593.5 915.2 1594.5 910.8 1595.5 903.1 1596.5 892.9 1597.5 882.4 1598.5 873.3 1599.5 866.3 1600.5 861.5 1601.5 857.8 1602.5 853.9 1603.5 851.9 1604.5 851.6 1605.5 852.3 1606.5 854.0 1607.5 856.9 1608.5 859.0 1609.5 858.3 1610.5 856.2 1611.5 853.4 1612.5 850.6 1613.5 849.6 1614.5 851.3 1615.5 855.8 1616.5 860.4 1617.5 863.9 1618.5 865.0 1619.5 863.4 1620.5 860.0 1621.5 855.7 1622.5 851.9 1623.5 849.7 1624.5 849.4 1625.5 849.9 1626.5 849.7 1627.5 849.3 1628.5 849.3 1629.5 849.9 1630.5 851.0 1631.5 852.4 1632.5 854.1 1633.5 855.1 1634.5 855.1 1635.5 854.5 1636.5 855.1 1637.5 855.6 1638.5 855.9 1639.5 856.9 1640.5 857.8 1641.5 857.1 1642.5 854.7 1643.5 851.7 1644.5 848.2 1645.5 845.1 1646.5 844.3 1647.5 847.0 1648.5 853.9 1649.5 864.5 1650.5 877.5 1651.5 890.9 1652.5 902.1 1653.5 910.1 1654.5 914.5 1655.5 916.0 1656.5 915.5 1657.5 914.2 1658.5 912.6 1659.5 909.5 1660.5 903.9 1661.5 895.7 1662.5 884.9 1663.5 872.6 1664.5 860.7 1665.5 851.5 1666.5 845.4 1667.5 842.3 1668.5 841.5 1669.5 841.9 1670.5 842.6 1671.5 843.4 1672.5 844.7 1673.5 847.4 1674.5 852.7 1675.5 860.7 1676.5 871.2 1677.5 883.7 1678.5 896.7 1679.5 907.8 1680.5 915.4 1681.5 919.8 1682.5 920.5 1683.5 917.1 1684.5 909.6 1685.5 899.0 1686.5 885.8 1687.5 871.8 1688.5 859.3 1689.5 850.5 1690.5 846.7 1691.5 848.2 1692.5 853.8 1693.5 861.9 1694.5 872.1 1695.5 883.8 1696.5 895.4 1697.5 905.7 1698.5 914.3 1699.5 920.4 1700.5 923.1 1701.5 922.3 1702.5 917.9 1703.5 910.2 1704.5 898.8 1705.5 884.9 1706.5 870.7 1707.5 860.4 1708.5 855.9 1709.5 857.8 1710.5 865.7 1711.5 877.4 1712.5 887.9 1713.5 894.2 1714.5 895.9 1715.5 893.0 1716.5 885.6 1717.5 877.1 1718.5 870.7 1719.5 867.4 1720.5 867.8 1721.5 872.0 1722.5 879.6 1723.5 887.4 1724.5 893.1 1725.5 896.4 1726.5 896.4 1727.5 892.6 1728.5 884.9 1729.5 878.2 1730.5 873.0 1731.5 868.5 1732.5 865.0 1733.5 863.6 1734.5 862.4 1735.5 858.8 1736.5 855.1 1737.5 852.8 1738.5 852.1 1739.5 854.1 1740.5 859.4 1741.5 867.2 1742.5 876.2 1743.5 885.5 1744.5 893.6 1745.5 897.5 1746.5 897.3 1747.5 893.4 1748.5 885.1 1749.5 872.8 1750.5 861.1 1751.5 851.3 1752.5 843.2 1753.5 837.3 1754.5 834.7 1755.5 834.8 1756.5 836.8 1757.5 841.7 1758.5 856.6 1759.5 871.2 1760.5 885.1 1761.5 897.7 1762.5 907.8 1763.5 914.5 1764.5 919.0 1765.5 921.7 L1765.8 922.8" stroke="#ff0000" stroke-width="1" shape-rendering="crispEdges" fill="none" stroke-linejoin="bevel"/>
<g style="letter-spacing:0.2px">
<text x="816.5" y="851" fill="#000">80.000</text>
<text x="1182.5" y="879" fill="#000">50.000</text>
<text x="1548" y="908" fill="#000">20.000</text>
</g>
<rect x="5.5" y="834.5" width="47" height="14" fill="#fff" stroke="#000" shape-rendering="crispEdges"/>
<text x="8.3" y="846" fill="#000">Sto(9/5)</text>
<rect x="55.5" y="835.5" width="12" height="12" fill="#fff" stroke="#000" shape-rendering="crispEdges"/>
<rect x="57" y="840" width="9" height="2" fill="#000" shape-rendering="crispEdges"/><rect x="60" y="837" width="2" height="9" fill="#000" shape-rendering="crispEdges"/>
<rect x="8" y="851" width="20" height="11" fill="#fff"/>
<text x="8.5" y="861" fill="#000">%K</text>
<text x="8.5" y="876" fill="#ff0000">%D</text>
<g style="letter-spacing:0.2px">
<text x="1843" y="31" fill="#000">262.50</text>
<text x="1843" y="72" fill="#000">250.00</text>
<text x="1843" y="113" fill="#000">237.50</text>
<text x="1843" y="153" fill="#000">225.00</text>
<text x="1843" y="194" fill="#000">212.50</text>
<text x="1843" y="235" fill="#000">200.00</text>
<text x="1843" y="276" fill="#000">187.50</text>
<text x="1843" y="316" fill="#000">175.00</text>
<text x="1843" y="357" fill="#000">162.50</text>
<text x="1843" y="398" fill="#000">150.00</text>
<text x="1843" y="438" fill="#000">137.50</text>
<text x="1843" y="479" fill="#000">125.00</text>
<text x="1843" y="520" fill="#000">112.50</text>
<text x="1843" y="561" fill="#000">100.00</text>
<text x="1843" y="601" fill="#000">87.50</text>
<text x="1843" y="642" fill="#000">75.00</text>
<text x="1843" y="683" fill="#000">62.50</text>
<text x="1843" y="724" fill="#000">50.00</text>
<text x="1843" y="764" fill="#000">37.500</text>
<text x="1843" y="805" fill="#000">25.000</text>
<text x="1843" y="861" fill="#000">75.00</text>
<text x="1843" y="885" fill="#000">50.00</text>
<text x="1843" y="909" fill="#000">25.000</text>
<rect x="1838" y="687" width="77" height="14" fill="#0000ff" shape-rendering="crispEdges"/><rect x="1838" y="694" width="3" height="1" fill="#fff"/>
<text x="1843" y="699" fill="#fff">57.44</text>
<rect x="1838" y="903" width="77" height="14" fill="#ff0000" shape-rendering="crispEdges"/><rect x="1838" y="909" width="3" height="1" fill="#fff"/>
<text x="1843" y="915" fill="#fff">4.486</text>
<rect x="1838" y="918" width="77" height="14" fill="#000" shape-rendering="crispEdges"/><rect x="1838" y="925" width="3" height="1" fill="#fff"/>
<text x="1843" y="930" fill="#fff">1.963</text>
<text x="77.7" y="945" text-anchor="end" fill="#000">01</text><text x="79.8" y="945" fill="#000">20</text>
<text x="124.7" y="945" text-anchor="end" fill="#000">03</text><text x="126.8" y="945" fill="#000">20</text>
<text x="168.7" y="945" text-anchor="end" fill="#000">05</text><text x="170.8" y="945" fill="#000">20</text>
<text x="213.7" y="945" text-anchor="end" fill="#000">07</text><text x="215.8" y="945" fill="#000">20</text>
<text x="262.7" y="945" text-anchor="end" fill="#000">09</text><text x="264.8" y="945" fill="#000">20</text>
<text x="310.7" y="945" text-anchor="end" fill="#000">11</text><text x="312.8" y="945" fill="#000">20</text>
<text x="355.7" y="945" text-anchor="end" fill="#000">01</text><text x="357.8" y="945" fill="#000">21</text>
<text x="398.7" y="945" text-anchor="end" fill="#000">03</text><text x="400.8" y="945" fill="#000">21</text>
<text x="445.7" y="945" text-anchor="end" fill="#000">05</text><text x="447.8" y="945" fill="#000">21</text>
<text x="491.7" y="945" text-anchor="end" fill="#000">07</text><text x="493.8" y="945" fill="#000">21</text>
<text x="539.7" y="945" text-anchor="end" fill="#000">09</text><text x="541.8" y="945" fill="#000">21</text>
<text x="586.7" y="945" text-anchor="end" fill="#000">11</text><text x="588.8" y="945" fill="#000">21</text>
<text x="633.7" y="945" text-anchor="end" fill="#000">01</text><text x="635.8" y="945" fill="#000">22</text>
<text x="678.7" y="945" text-anchor="end" fill="#000">03</text><text x="680.8" y="945" fill="#000">22</text>
<text x="724.7" y="945" text-anchor="end" fill="#000">05</text><text x="726.8" y="945" fill="#000">22</text>
<text x="773.7" y="945" text-anchor="end" fill="#000">07</text><text x="775.8" y="945" fill="#000">22</text>
<text x="821.7" y="945" text-anchor="end" fill="#000">09</text><text x="823.8" y="945" fill="#000">22</text>
<text x="868.7" y="945" text-anchor="end" fill="#000">11</text><text x="870.8" y="945" fill="#000">22</text>
<text x="915.7" y="945" text-anchor="end" fill="#000">01</text><text x="917.8" y="945" fill="#000">23</text>
<text x="961.7" y="945" text-anchor="end" fill="#000">03</text><text x="963.8" y="945" fill="#000">23</text>
<text x="1006.7" y="945" text-anchor="end" fill="#000">05</text><text x="1008.8" y="945" fill="#000">23</text>
<text x="1055.7" y="945" text-anchor="end" fill="#000">07</text><text x="1057.8" y="945" fill="#000">23</text>
<text x="1103.7" y="945" text-anchor="end" fill="#000">09</text><text x="1105.8" y="945" fill="#000">23</text>
<text x="1150.7" y="945" text-anchor="end" fill="#000">11</text><text x="1152.8" y="945" fill="#000">23</text>
<text x="1195.7" y="945" text-anchor="end" fill="#000">01</text><text x="1197.8" y="945" fill="#000">24</text>
<text x="1242.7" y="945" text-anchor="end" fill="#000">03</text><text x="1244.8" y="945" fill="#000">24</text>
<text x="1287.7" y="945" text-anchor="end" fill="#000">05</text><text x="1289.8" y="945" fill="#000">24</text>
<text x="1333.7" y="945" text-anchor="end" fill="#000">07</text><text x="1335.8" y="945" fill="#000">24</text>
<text x="1382.7" y="945" text-anchor="end" fill="#000">09</text><text x="1384.8" y="945" fill="#000">24</text>
<text x="1431.7" y="945" text-anchor="end" fill="#000">11</text><text x="1433.8" y="945" fill="#000">24</text>
<text x="1472.7" y="945" text-anchor="end" fill="#000">01</text><text x="1474.8" y="945" fill="#000">25</text>
<text x="1518.7" y="945" text-anchor="end" fill="#000">03</text><text x="1520.8" y="945" fill="#000">25</text>
<text x="1563.7" y="945" text-anchor="end" fill="#000">05</text><text x="1565.8" y="945" fill="#000">25</text>
<text x="1609.7" y="945" text-anchor="end" fill="#000">07</text><text x="1611.8" y="945" fill="#000">25</text>
<text x="1658.7" y="945" text-anchor="end" fill="#000">09</text><text x="1660.8" y="945" fill="#000">25</text>
<text x="1707.7" y="945" text-anchor="end" fill="#000">11</text><text x="1709.8" y="945" fill="#000">25</text>
<text x="1750.7" y="945" text-anchor="end" fill="#000">01</text><text x="1752.8" y="945" fill="#000">26</text>
<text x="1795.7" y="945" text-anchor="end" fill="#000">03</text><text x="1797.8" y="945" fill="#000">26</text>
<text x="1826" y="945" fill="#000">-</text>
<rect x="1" y="933" width="82" height="14" fill="#fff"/>
<text x="11.3" y="945" fill="#000">23.01.26</text>
</g>
<g fill="#000080" style="font-weight:bold;font-size:14.67px">
<text x="483.7" y="54" textLength="116.0" lengthAdjust="spacingAndGlyphs">Endlos-Zertifikat</text>
<text x="603.4" y="54" textLength="60.2" lengthAdjust="spacingAndGlyphs">bezogen</text>
<text x="667.7" y="54" textLength="22.6" lengthAdjust="spacingAndGlyphs">auf</text>
<text x="694.0" y="54" textLength="27.2" lengthAdjust="spacingAndGlyphs">LUS</text>
<text x="724.4" y="54" textLength="104.8" lengthAdjust="spacingAndGlyphs">Wikifolio-Index</text>
<text x="833.3" y="54" textLength="5.9" lengthAdjust="spacingAndGlyphs">-</text>
<text x="842.1" y="54" textLength="89.8" lengthAdjust="spacingAndGlyphs">Performance</text>
<text x="935.9" y="54" textLength="26.9" lengthAdjust="spacingAndGlyphs">von</text>
<text x="966.8" y="54" textLength="120.4" lengthAdjust="spacingAndGlyphs">Kryptowaehrung.</text>
<text x="1091.0" y="54" textLength="28.5" lengthAdjust="spacingAndGlyphs">(Auf</text>
<text x="1122.7" y="54" textLength="90.8" lengthAdjust="spacingAndGlyphs">LITECOINLTC</text>
<text x="1217.2" y="54" textLength="26.4" lengthAdjust="spacingAndGlyphs">und</text>
<text x="1248.0" y="54" textLength="56.5" lengthAdjust="spacingAndGlyphs">BITCOIN</text>
<text x="1308.6" y="54" textLength="37.7" lengthAdjust="spacingAndGlyphs">CASH</text>
<text x="1350.3" y="54" textLength="36.0" lengthAdjust="spacingAndGlyphs">BCH)</text>
</g>
<g fill="#000" stroke="#000" stroke-width="0.35" style="font-family:'Liberation Serif',serif;font-size:13.5px">
<text x="484.0" y="80" textLength="127.5" lengthAdjust="spacingAndGlyphs">Haftungsausschluss für Inhalte:</text>
<text x="613.5" y="80" textLength="91.8" lengthAdjust="spacingAndGlyphs">Alle Trendkanäle bzw.</text>
<text x="707.8" y="80" textLength="78.7" lengthAdjust="spacingAndGlyphs">andere Linien, oder</text>
<text x="789.3" y="80" textLength="97.2" lengthAdjust="spacingAndGlyphs">Grafiken hier sind keine</text>
<text x="889.3" y="80" textLength="59.0" lengthAdjust="spacingAndGlyphs">Empfehlungen,</text>
<text x="952.3" y="80" textLength="61.9" lengthAdjust="spacingAndGlyphs">oder Beratung,</text>
<text x="1017.0" y="80" textLength="74.9" lengthAdjust="spacingAndGlyphs">sondern die zeigen</text>
<text x="1094.4" y="80" textLength="89.0" lengthAdjust="spacingAndGlyphs">lediglich meine eigene</text>
<text x="1185.9" y="80" textLength="57.7" lengthAdjust="spacingAndGlyphs">Einschätzung.</text>
<text x="1246.1" y="80" textLength="84.7" lengthAdjust="spacingAndGlyphs">Alle Chartdaten sind</text>
<text x="1333.3" y="80" textLength="56.9" lengthAdjust="spacingAndGlyphs">ohne Gewähr.</text>
<text x="1394.6" y="80" textLength="192.9" lengthAdjust="spacingAndGlyphs">www.wikifolio.com/de/de/p/cyberwaehrungen</text>
</g>
<g fill="#000" shape-rendering="crispEdges"><rect x="0" y="0" width="1916" height="1"/><rect x="0" y="0" width="1" height="948"/><rect x="1915" y="0" width="1" height="948"/><rect x="0" y="947" width="1916" height="1"/></g>
<rect x="975" y="0" width="19" height="1" fill="#8000ff" shape-rendering="crispEdges"/>
</svg></body></html>
